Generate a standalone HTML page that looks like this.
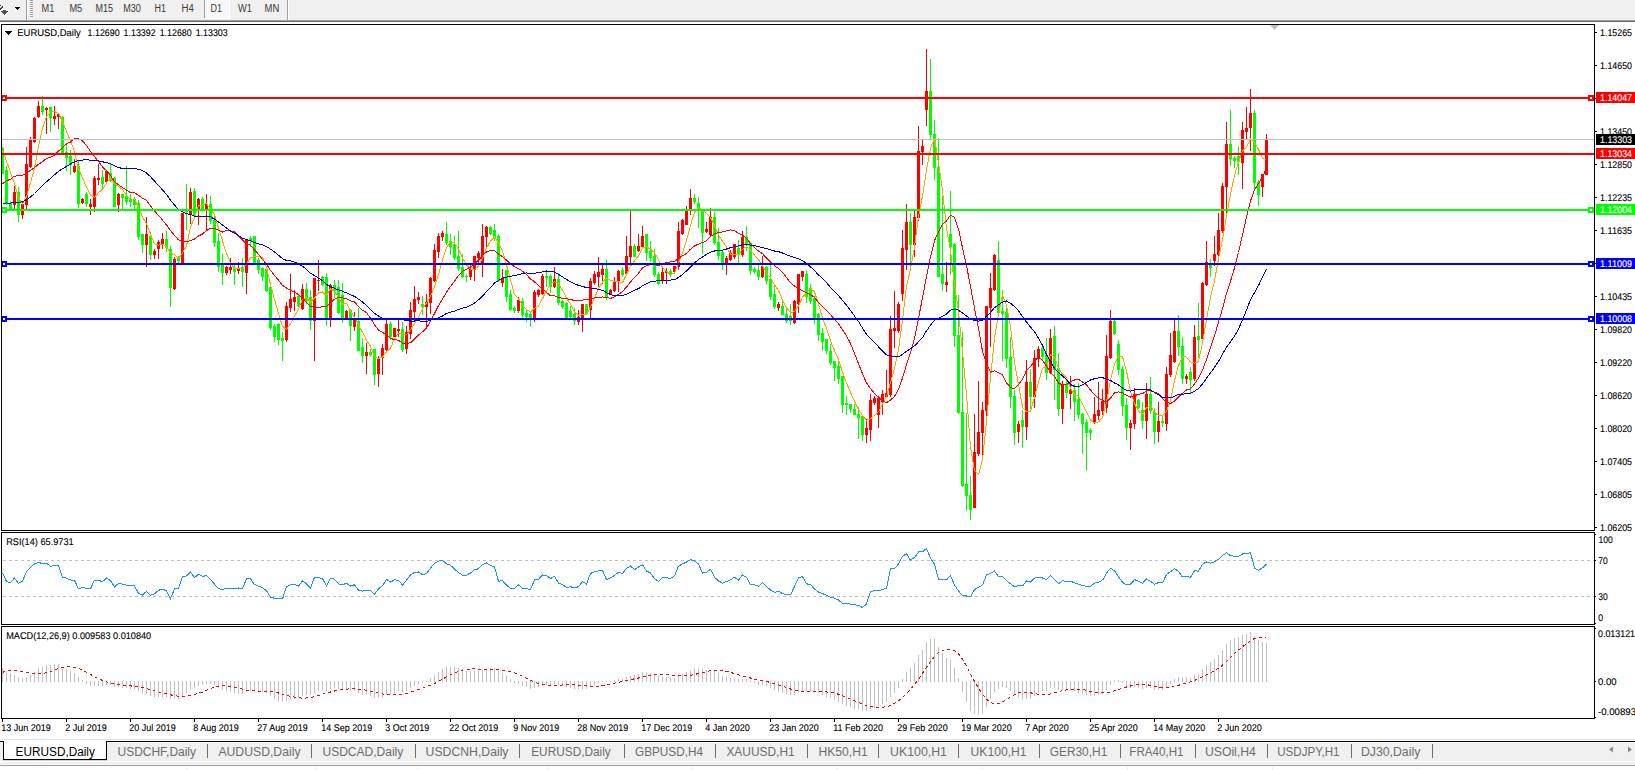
<!DOCTYPE html>
<html><head><meta charset="utf-8"><title>EURUSD,Daily</title><style>
html,body{margin:0;padding:0;}
body{width:1635px;height:770px;overflow:hidden;background:#fff;position:relative;font-family:"Liberation Sans", sans-serif;}
.a{position:absolute;}
</style></head><body>
<div class="a" style="left:0;top:0;width:1635px;height:20px;background:#f0f0f0"></div><div class="a" style="left:0;top:20px;width:1635px;height:1px;background:#a0a0a0"></div><div class="a" style="left:0;top:21px;width:1635px;height:1px;background:#696969"></div>
<svg class="a" style="left:0;top:0" width="300" height="20" shape-rendering="crispEdges" font-family='"Liberation Sans", sans-serif'><rect x="2" y="9" width="5" height="1" fill="#ffffff"/><rect x="0" y="10" width="9" height="1" fill="#ffffff"/><rect x="0" y="11" width="9" height="1" fill="#ffffff"/><rect x="1" y="12" width="7" height="1" fill="#ffffff"/><rect x="2" y="13" width="5" height="1" fill="#ffffff"/><rect x="3" y="14" width="3" height="1" fill="#ffffff"/><rect x="3" y="15" width="3" height="1" fill="#ffffff"/><rect x="0" y="4" width="2" height="1" fill="#ffffff"/><rect x="1" y="5" width="1" height="1" fill="#ffffff"/><rect x="0" y="6" width="1" height="1" fill="#ffffff"/><rect x="3" y="5" width="1" height="1" fill="#ffffff"/><rect x="3" y="6" width="1" height="1" fill="#ffffff"/><rect x="2" y="8" width="1" height="1" fill="#ffffff"/><rect x="1" y="9" width="1" height="1" fill="#ffffff"/><rect x="3" y="10" width="3" height="1" fill="#505050"/><rect x="1" y="11" width="7" height="1" fill="#505050"/><rect x="2" y="12" width="5" height="1" fill="#505050"/><rect x="3" y="13" width="3" height="1" fill="#505050"/><rect x="4" y="14" width="1" height="1" fill="#505050"/><rect x="0" y="5" width="1" height="1" fill="#404040"/><rect x="2" y="6" width="1" height="1" fill="#404040"/><rect x="1" y="7" width="2" height="1" fill="#404040"/><rect x="0" y="8" width="2" height="1" fill="#404040"/><rect x="0" y="9" width="1" height="1" fill="#404040"/><rect x="14" y="6" width="7" height="1" fill="#ffffff"/><rect x="15" y="10" width="3" height="1" fill="#ffffff"/><rect x="16" y="11" width="1" height="1" fill="#ffffff"/><rect x="15" y="7" width="5" height="1" fill="#000000"/><rect x="16" y="8" width="3" height="1" fill="#000000"/><rect x="17" y="9" width="1" height="1" fill="#000000"/><rect x="26" y="0" width="1" height="20" fill="#a0a0a0"/><rect x="27" y="0" width="1" height="20" fill="#fff"/><rect x="30" y="0" width="3" height="1" fill="#a0a0a0"/><rect x="30" y="2" width="3" height="1" fill="#a0a0a0"/><rect x="30" y="4" width="3" height="1" fill="#a0a0a0"/><rect x="30" y="6" width="3" height="1" fill="#a0a0a0"/><rect x="30" y="8" width="3" height="1" fill="#a0a0a0"/><rect x="30" y="10" width="3" height="1" fill="#a0a0a0"/><rect x="30" y="12" width="3" height="1" fill="#a0a0a0"/><rect x="30" y="14" width="3" height="1" fill="#a0a0a0"/><rect x="30" y="16" width="3" height="1" fill="#a0a0a0"/><rect x="204" y="0" width="1" height="18" fill="#a0a0a0"/><rect x="205" y="0" width="24" height="18" fill="#f7f7f7"/><rect x="204" y="18" width="26" height="1" fill="#fff"/><rect x="229" y="0" width="1" height="18" fill="#fff"/><rect x="287" y="0" width="1" height="20" fill="#a0a0a0"/><rect x="288" y="0" width="1" height="20" fill="#fff"/><text x="41.6" y="12" font-size="10" fill="#3a3a3a" textLength="12.8" lengthAdjust="spacingAndGlyphs" >M1</text><text x="69.4" y="12" font-size="10" fill="#3a3a3a" textLength="12.8" lengthAdjust="spacingAndGlyphs" >M5</text><text x="95.5" y="12" font-size="10" fill="#3a3a3a" textLength="17.5" lengthAdjust="spacingAndGlyphs" >M15</text><text x="123.3" y="12" font-size="10" fill="#3a3a3a" textLength="17.6" lengthAdjust="spacingAndGlyphs" >M30</text><text x="154.6" y="12" font-size="10" fill="#3a3a3a" textLength="11.5" lengthAdjust="spacingAndGlyphs" >H1</text><text x="181.5" y="12" font-size="10" fill="#3a3a3a" textLength="12.3" lengthAdjust="spacingAndGlyphs" >H4</text><text x="210.5" y="12" font-size="10" fill="#3a3a3a" textLength="11.5" lengthAdjust="spacingAndGlyphs" >D1</text><text x="238" y="12" font-size="10" fill="#3a3a3a" textLength="13.9" lengthAdjust="spacingAndGlyphs" >W1</text><text x="264.6" y="12" font-size="10" fill="#3a3a3a" textLength="14.7" lengthAdjust="spacingAndGlyphs" >MN</text></svg>
<div class="a" style="left:0;top:739px;width:1635px;height:1px;background:#e3e3e3"></div><div class="a" style="left:0;top:742px;width:1635px;height:22px;background:#f0f0f0"></div><div class="a" style="left:0;top:765px;width:1635px;height:1px;background:#a0a0a0"></div><div class="a" style="left:0;top:761px;width:1635px;height:1px;background:#fff"></div><div class="a" style="left:0;top:764px;width:1635px;height:1px;background:#f5f5f5"></div><div class="a" style="left:3px;top:760px;width:104px;height:1px;background:#d0d0d0"></div><div class="a" style="left:186px;top:767px;width:1px;height:3px;background:#ececec"></div><div class="a" style="left:316px;top:767px;width:1px;height:3px;background:#ececec"></div><div class="a" style="left:417px;top:767px;width:1px;height:3px;background:#ececec"></div><div class="a" style="left:547px;top:767px;width:1px;height:3px;background:#ececec"></div><div class="a" style="left:692px;top:767px;width:1px;height:3px;background:#ececec"></div><div class="a" style="left:837px;top:767px;width:1px;height:3px;background:#ececec"></div><div class="a" style="left:982px;top:767px;width:1px;height:3px;background:#ececec"></div><div class="a" style="left:1127px;top:767px;width:1px;height:3px;background:#ececec"></div><div class="a" style="left:1272px;top:767px;width:1px;height:3px;background:#ececec"></div><div class="a" style="left:1417px;top:767px;width:1px;height:3px;background:#ececec"></div><div class="a" style="left:0;top:741px;width:4px;height:1px;background:#000"></div><div class="a" style="left:106px;top:741px;width:1529px;height:1px;background:#000"></div><div class="a" style="left:107px;top:742px;width:1528px;height:1px;background:#fff"></div><div class="a" style="left:3px;top:741px;width:104px;height:19px;background:#fff;border-left:1px solid #000;border-right:1px solid #000;border-bottom:1px solid #000;box-sizing:border-box"></div>
<svg class="a" style="left:0;top:738px" width="1635" height="32" shape-rendering="crispEdges" font-family='"Liberation Sans", sans-serif'><text x="15.6" y="18" font-size="12" fill="#000" textLength="79.3" lengthAdjust="spacingAndGlyphs" >EURUSD,Daily</text><text x="117.5" y="18" font-size="12" fill="#6d6d6d" textLength="78.5" lengthAdjust="spacingAndGlyphs" >USDCHF,Daily</text><text x="218.4" y="18" font-size="12" fill="#6d6d6d" textLength="82.1" lengthAdjust="spacingAndGlyphs" >AUDUSD,Daily</text><text x="322.5" y="18" font-size="12" fill="#6d6d6d" textLength="80.8" lengthAdjust="spacingAndGlyphs" >USDCAD,Daily</text><text x="425.6" y="18" font-size="12" fill="#6d6d6d" textLength="82.9" lengthAdjust="spacingAndGlyphs" >USDCNH,Daily</text><text x="531.2" y="18" font-size="12" fill="#6d6d6d" textLength="79.6" lengthAdjust="spacingAndGlyphs" >EURUSD,Daily</text><text x="635" y="18" font-size="12" fill="#6d6d6d" textLength="68" lengthAdjust="spacingAndGlyphs" >GBPUSD,H4</text><text x="726.4" y="18" font-size="12" fill="#6d6d6d" textLength="68.3" lengthAdjust="spacingAndGlyphs" >XAUUSD,H1</text><text x="818.5" y="18" font-size="12" fill="#6d6d6d" textLength="49.2" lengthAdjust="spacingAndGlyphs" >HK50,H1</text><text x="890" y="18" font-size="12" fill="#6d6d6d" textLength="57" lengthAdjust="spacingAndGlyphs" >UK100,H1</text><text x="970.5" y="18" font-size="12" fill="#6d6d6d" textLength="56.1" lengthAdjust="spacingAndGlyphs" >UK100,H1</text><text x="1049.7" y="18" font-size="12" fill="#6d6d6d" textLength="57.6" lengthAdjust="spacingAndGlyphs" >GER30,H1</text><text x="1129.3" y="18" font-size="12" fill="#6d6d6d" textLength="54.3" lengthAdjust="spacingAndGlyphs" >FRA40,H1</text><text x="1204.9" y="18" font-size="12" fill="#6d6d6d" textLength="51" lengthAdjust="spacingAndGlyphs" >USOil,H4</text><text x="1277.2" y="18" font-size="12" fill="#6d6d6d" textLength="62.4" lengthAdjust="spacingAndGlyphs" >USDJPY,H1</text><text x="1360.9" y="18" font-size="12" fill="#6d6d6d" textLength="59.4" lengthAdjust="spacingAndGlyphs" >DJ30,Daily</text><rect x="207" y="6" width="1" height="14" fill="#6d6d6d"/><rect x="311" y="6" width="1" height="14" fill="#6d6d6d"/><rect x="415" y="6" width="1" height="14" fill="#6d6d6d"/><rect x="519" y="6" width="1" height="14" fill="#6d6d6d"/><rect x="624" y="6" width="1" height="14" fill="#6d6d6d"/><rect x="715" y="6" width="1" height="14" fill="#6d6d6d"/><rect x="807" y="6" width="1" height="14" fill="#6d6d6d"/><rect x="878" y="6" width="1" height="14" fill="#6d6d6d"/><rect x="958" y="6" width="1" height="14" fill="#6d6d6d"/><rect x="1039" y="6" width="1" height="14" fill="#6d6d6d"/><rect x="1120" y="6" width="1" height="14" fill="#6d6d6d"/><rect x="1195" y="6" width="1" height="14" fill="#6d6d6d"/><rect x="1267" y="6" width="1" height="14" fill="#6d6d6d"/><rect x="1351" y="6" width="1" height="14" fill="#6d6d6d"/><rect x="1432" y="6" width="1" height="14" fill="#6d6d6d"/><polygon points="1613,8.5 1609,11.5 1613,14.5" fill="#8a8a8a" shape-rendering="auto"/><polygon points="1628,8.5 1632,11.5 1628,14.5" fill="#8a8a8a" shape-rendering="auto"/></svg>
<svg class="a" style="left:0;top:0" width="1635" height="770" viewBox="0 0 1635 770" shape-rendering="crispEdges" text-rendering="geometricPrecision" font-family='"Liberation Sans", sans-serif'><defs><clipPath id="cm"><rect x="2" y="25" width="1592" height="505"/></clipPath><clipPath id="cr"><rect x="2" y="533" width="1592" height="91"/></clipPath><clipPath id="cd"><rect x="2" y="627" width="1592" height="91"/></clipPath></defs><g clip-path="url(#cm)"><rect x="2" y="147" width="1" height="27" fill="#00ff00"/><rect x="2" y="148" width="2" height="26" fill="#00ff00"/><rect x="6" y="166" width="1" height="39" fill="#00ff00"/><rect x="5" y="170" width="3" height="34" fill="#00ff00"/><rect x="10" y="201" width="1" height="9" fill="#00ff00"/><rect x="9" y="203" width="3" height="6" fill="#00ff00"/><rect x="14" y="186" width="1" height="23" fill="#ff0000"/><rect x="13" y="192" width="3" height="13" fill="#ff0000"/><rect x="18" y="187" width="1" height="35" fill="#00ff00"/><rect x="17" y="192" width="3" height="23" fill="#00ff00"/><rect x="22" y="201" width="1" height="18" fill="#ff0000"/><rect x="21" y="204" width="3" height="11" fill="#ff0000"/><rect x="26" y="147" width="1" height="63" fill="#ff0000"/><rect x="25" y="164" width="3" height="41" fill="#ff0000"/><rect x="30" y="137" width="1" height="31" fill="#ff0000"/><rect x="29" y="140" width="3" height="27" fill="#ff0000"/><rect x="34" y="117" width="1" height="26" fill="#ff0000"/><rect x="33" y="118" width="3" height="24" fill="#ff0000"/><rect x="38" y="101" width="1" height="17" fill="#ff0000"/><rect x="37" y="106" width="3" height="11" fill="#ff0000"/><rect x="42" y="96" width="1" height="19" fill="#00ff00"/><rect x="41" y="106" width="3" height="6" fill="#00ff00"/><rect x="46" y="107" width="1" height="27" fill="#ff0000"/><rect x="45" y="108" width="3" height="2" fill="#ff0000"/><rect x="50" y="107" width="1" height="25" fill="#00ff00"/><rect x="49" y="107" width="3" height="11" fill="#00ff00"/><rect x="54" y="106" width="1" height="19" fill="#ff0000"/><rect x="53" y="116" width="3" height="3" fill="#ff0000"/><rect x="58" y="114" width="1" height="15" fill="#ff0000"/><rect x="57" y="114" width="3" height="3" fill="#ff0000"/><rect x="62" y="116" width="1" height="38" fill="#00ff00"/><rect x="61" y="117" width="3" height="37" fill="#00ff00"/><rect x="66" y="144" width="1" height="27" fill="#00ff00"/><rect x="65" y="152" width="3" height="6" fill="#00ff00"/><rect x="70" y="150" width="1" height="25" fill="#00ff00"/><rect x="69" y="156" width="3" height="9" fill="#00ff00"/><rect x="74" y="159" width="1" height="14" fill="#ff0000"/><rect x="73" y="166" width="3" height="6" fill="#ff0000"/><rect x="78" y="161" width="1" height="47" fill="#00ff00"/><rect x="77" y="166" width="3" height="38" fill="#00ff00"/><rect x="82" y="198" width="1" height="6" fill="#ff0000"/><rect x="81" y="199" width="3" height="4" fill="#ff0000"/><rect x="86" y="192" width="1" height="15" fill="#00ff00"/><rect x="85" y="194" width="3" height="10" fill="#00ff00"/><rect x="90" y="199" width="1" height="16" fill="#ff0000"/><rect x="89" y="204" width="3" height="3" fill="#ff0000"/><rect x="94" y="176" width="1" height="36" fill="#ff0000"/><rect x="93" y="178" width="3" height="29" fill="#ff0000"/><rect x="98" y="164" width="1" height="21" fill="#ff0000"/><rect x="97" y="178" width="3" height="2" fill="#ff0000"/><rect x="102" y="170" width="1" height="19" fill="#00ff00"/><rect x="101" y="177" width="3" height="7" fill="#00ff00"/><rect x="106" y="170" width="1" height="13" fill="#ff0000"/><rect x="105" y="171" width="3" height="11" fill="#ff0000"/><rect x="110" y="164" width="1" height="18" fill="#00ff00"/><rect x="109" y="173" width="3" height="8" fill="#00ff00"/><rect x="114" y="177" width="1" height="30" fill="#00ff00"/><rect x="113" y="178" width="3" height="29" fill="#00ff00"/><rect x="118" y="193" width="1" height="19" fill="#ff0000"/><rect x="117" y="194" width="3" height="11" fill="#ff0000"/><rect x="122" y="194" width="1" height="15" fill="#00ff00"/><rect x="121" y="194" width="3" height="4" fill="#00ff00"/><rect x="126" y="166" width="1" height="39" fill="#00ff00"/><rect x="125" y="196" width="3" height="6" fill="#00ff00"/><rect x="130" y="194" width="1" height="13" fill="#00ff00"/><rect x="129" y="199" width="3" height="3" fill="#00ff00"/><rect x="134" y="197" width="1" height="12" fill="#00ff00"/><rect x="133" y="199" width="3" height="6" fill="#00ff00"/><rect x="138" y="200" width="1" height="40" fill="#00ff00"/><rect x="137" y="203" width="3" height="34" fill="#00ff00"/><rect x="142" y="234" width="1" height="19" fill="#00ff00"/><rect x="141" y="234" width="3" height="11" fill="#00ff00"/><rect x="146" y="217" width="1" height="50" fill="#ff0000"/><rect x="145" y="234" width="3" height="11" fill="#ff0000"/><rect x="150" y="232" width="1" height="28" fill="#00ff00"/><rect x="149" y="236" width="3" height="19" fill="#00ff00"/><rect x="154" y="249" width="1" height="10" fill="#ff0000"/><rect x="153" y="251" width="3" height="4" fill="#ff0000"/><rect x="158" y="240" width="1" height="19" fill="#ff0000"/><rect x="157" y="242" width="3" height="7" fill="#ff0000"/><rect x="162" y="233" width="1" height="16" fill="#ff0000"/><rect x="161" y="239" width="3" height="5" fill="#ff0000"/><rect x="166" y="231" width="1" height="21" fill="#00ff00"/><rect x="165" y="239" width="3" height="9" fill="#00ff00"/><rect x="170" y="246" width="1" height="61" fill="#00ff00"/><rect x="169" y="249" width="3" height="39" fill="#00ff00"/><rect x="174" y="257" width="1" height="33" fill="#ff0000"/><rect x="173" y="259" width="3" height="30" fill="#ff0000"/><rect x="178" y="256" width="1" height="8" fill="#00ff00"/><rect x="177" y="257" width="3" height="4" fill="#00ff00"/><rect x="182" y="213" width="1" height="51" fill="#ff0000"/><rect x="181" y="213" width="3" height="51" fill="#ff0000"/><rect x="186" y="184" width="1" height="46" fill="#00ff00"/><rect x="185" y="209" width="3" height="3" fill="#00ff00"/><rect x="190" y="188" width="1" height="36" fill="#ff0000"/><rect x="189" y="192" width="3" height="23" fill="#ff0000"/><rect x="194" y="188" width="1" height="29" fill="#00ff00"/><rect x="193" y="191" width="3" height="24" fill="#00ff00"/><rect x="198" y="198" width="1" height="27" fill="#ff0000"/><rect x="197" y="199" width="3" height="11" fill="#ff0000"/><rect x="202" y="197" width="1" height="13" fill="#00ff00"/><rect x="201" y="199" width="3" height="10" fill="#00ff00"/><rect x="206" y="194" width="1" height="37" fill="#ff0000"/><rect x="205" y="204" width="3" height="6" fill="#ff0000"/><rect x="210" y="196" width="1" height="28" fill="#00ff00"/><rect x="209" y="204" width="3" height="17" fill="#00ff00"/><rect x="214" y="214" width="1" height="33" fill="#00ff00"/><rect x="213" y="220" width="3" height="23" fill="#00ff00"/><rect x="218" y="233" width="1" height="39" fill="#00ff00"/><rect x="217" y="241" width="3" height="26" fill="#00ff00"/><rect x="222" y="254" width="1" height="31" fill="#00ff00"/><rect x="221" y="264" width="3" height="9" fill="#00ff00"/><rect x="226" y="266" width="1" height="9" fill="#ff0000"/><rect x="225" y="267" width="3" height="6" fill="#ff0000"/><rect x="230" y="258" width="1" height="16" fill="#ff0000"/><rect x="229" y="267" width="3" height="3" fill="#ff0000"/><rect x="234" y="264" width="1" height="21" fill="#00ff00"/><rect x="233" y="268" width="3" height="4" fill="#00ff00"/><rect x="238" y="262" width="1" height="12" fill="#ff0000"/><rect x="237" y="268" width="3" height="3" fill="#ff0000"/><rect x="242" y="258" width="1" height="29" fill="#00ff00"/><rect x="241" y="267" width="3" height="5" fill="#00ff00"/><rect x="246" y="240" width="1" height="54" fill="#ff0000"/><rect x="245" y="240" width="3" height="33" fill="#ff0000"/><rect x="250" y="236" width="1" height="11" fill="#00ff00"/><rect x="249" y="238" width="3" height="3" fill="#00ff00"/><rect x="254" y="236" width="1" height="28" fill="#00ff00"/><rect x="253" y="236" width="3" height="27" fill="#00ff00"/><rect x="258" y="258" width="1" height="16" fill="#00ff00"/><rect x="257" y="260" width="3" height="10" fill="#00ff00"/><rect x="262" y="267" width="1" height="14" fill="#00ff00"/><rect x="261" y="268" width="3" height="9" fill="#00ff00"/><rect x="266" y="266" width="1" height="26" fill="#00ff00"/><rect x="265" y="269" width="3" height="22" fill="#00ff00"/><rect x="270" y="286" width="1" height="44" fill="#00ff00"/><rect x="269" y="287" width="3" height="41" fill="#00ff00"/><rect x="274" y="324" width="1" height="18" fill="#00ff00"/><rect x="273" y="326" width="3" height="11" fill="#00ff00"/><rect x="278" y="323" width="1" height="22" fill="#00ff00"/><rect x="277" y="324" width="3" height="16" fill="#00ff00"/><rect x="282" y="332" width="1" height="29" fill="#00ff00"/><rect x="281" y="338" width="3" height="3" fill="#00ff00"/><rect x="286" y="302" width="1" height="40" fill="#ff0000"/><rect x="285" y="306" width="3" height="34" fill="#ff0000"/><rect x="290" y="274" width="1" height="38" fill="#ff0000"/><rect x="289" y="299" width="3" height="9" fill="#ff0000"/><rect x="294" y="290" width="1" height="21" fill="#ff0000"/><rect x="293" y="297" width="3" height="5" fill="#ff0000"/><rect x="298" y="295" width="1" height="12" fill="#00ff00"/><rect x="297" y="296" width="3" height="10" fill="#00ff00"/><rect x="302" y="284" width="1" height="26" fill="#ff0000"/><rect x="301" y="289" width="3" height="20" fill="#ff0000"/><rect x="306" y="283" width="1" height="21" fill="#00ff00"/><rect x="305" y="289" width="3" height="12" fill="#00ff00"/><rect x="310" y="290" width="1" height="40" fill="#00ff00"/><rect x="309" y="297" width="3" height="24" fill="#00ff00"/><rect x="314" y="278" width="1" height="83" fill="#ff0000"/><rect x="313" y="278" width="3" height="43" fill="#ff0000"/><rect x="318" y="260" width="1" height="31" fill="#ff0000"/><rect x="317" y="280" width="3" height="1" fill="#ff0000"/><rect x="322" y="276" width="1" height="10" fill="#00ff00"/><rect x="321" y="277" width="3" height="8" fill="#00ff00"/><rect x="326" y="273" width="1" height="53" fill="#00ff00"/><rect x="325" y="277" width="3" height="42" fill="#00ff00"/><rect x="330" y="284" width="1" height="43" fill="#ff0000"/><rect x="329" y="285" width="3" height="34" fill="#ff0000"/><rect x="334" y="280" width="1" height="18" fill="#00ff00"/><rect x="333" y="285" width="3" height="6" fill="#00ff00"/><rect x="338" y="280" width="1" height="34" fill="#00ff00"/><rect x="337" y="287" width="3" height="26" fill="#00ff00"/><rect x="342" y="283" width="1" height="40" fill="#00ff00"/><rect x="341" y="295" width="3" height="24" fill="#00ff00"/><rect x="346" y="310" width="1" height="10" fill="#ff0000"/><rect x="345" y="311" width="3" height="8" fill="#ff0000"/><rect x="350" y="309" width="1" height="32" fill="#00ff00"/><rect x="349" y="310" width="3" height="16" fill="#00ff00"/><rect x="354" y="312" width="1" height="19" fill="#ff0000"/><rect x="353" y="320" width="3" height="7" fill="#ff0000"/><rect x="358" y="308" width="1" height="43" fill="#00ff00"/><rect x="357" y="321" width="3" height="30" fill="#00ff00"/><rect x="362" y="338" width="1" height="25" fill="#00ff00"/><rect x="361" y="347" width="3" height="9" fill="#00ff00"/><rect x="366" y="343" width="1" height="31" fill="#ff0000"/><rect x="365" y="352" width="3" height="4" fill="#ff0000"/><rect x="370" y="349" width="1" height="8" fill="#00ff00"/><rect x="369" y="352" width="3" height="3" fill="#00ff00"/><rect x="374" y="349" width="1" height="36" fill="#00ff00"/><rect x="373" y="349" width="3" height="26" fill="#00ff00"/><rect x="378" y="356" width="1" height="31" fill="#ff0000"/><rect x="377" y="358" width="3" height="16" fill="#ff0000"/><rect x="382" y="344" width="1" height="31" fill="#ff0000"/><rect x="381" y="348" width="3" height="10" fill="#ff0000"/><rect x="386" y="320" width="1" height="32" fill="#ff0000"/><rect x="385" y="324" width="3" height="26" fill="#ff0000"/><rect x="390" y="321" width="1" height="19" fill="#00ff00"/><rect x="389" y="324" width="3" height="13" fill="#00ff00"/><rect x="394" y="328" width="1" height="9" fill="#ff0000"/><rect x="393" y="328" width="3" height="9" fill="#ff0000"/><rect x="398" y="320" width="1" height="17" fill="#ff0000"/><rect x="397" y="329" width="3" height="2" fill="#ff0000"/><rect x="402" y="322" width="1" height="30" fill="#00ff00"/><rect x="401" y="329" width="3" height="21" fill="#00ff00"/><rect x="406" y="326" width="1" height="28" fill="#ff0000"/><rect x="405" y="332" width="3" height="17" fill="#ff0000"/><rect x="410" y="302" width="1" height="37" fill="#ff0000"/><rect x="409" y="310" width="3" height="24" fill="#ff0000"/><rect x="414" y="286" width="1" height="33" fill="#ff0000"/><rect x="413" y="299" width="3" height="13" fill="#ff0000"/><rect x="418" y="292" width="1" height="12" fill="#ff0000"/><rect x="417" y="297" width="3" height="3" fill="#ff0000"/><rect x="422" y="296" width="1" height="19" fill="#00ff00"/><rect x="421" y="304" width="3" height="3" fill="#00ff00"/><rect x="426" y="294" width="1" height="33" fill="#ff0000"/><rect x="425" y="302" width="3" height="5" fill="#ff0000"/><rect x="430" y="277" width="1" height="37" fill="#ff0000"/><rect x="429" y="278" width="3" height="25" fill="#ff0000"/><rect x="434" y="244" width="1" height="38" fill="#ff0000"/><rect x="433" y="250" width="3" height="31" fill="#ff0000"/><rect x="438" y="233" width="1" height="25" fill="#ff0000"/><rect x="437" y="236" width="3" height="16" fill="#ff0000"/><rect x="442" y="231" width="1" height="10" fill="#ff0000"/><rect x="441" y="233" width="3" height="4" fill="#ff0000"/><rect x="446" y="222" width="1" height="23" fill="#00ff00"/><rect x="445" y="234" width="3" height="9" fill="#00ff00"/><rect x="450" y="234" width="1" height="21" fill="#00ff00"/><rect x="449" y="241" width="3" height="6" fill="#00ff00"/><rect x="454" y="236" width="1" height="24" fill="#00ff00"/><rect x="453" y="244" width="3" height="14" fill="#00ff00"/><rect x="458" y="231" width="1" height="40" fill="#00ff00"/><rect x="457" y="256" width="3" height="13" fill="#00ff00"/><rect x="462" y="254" width="1" height="24" fill="#00ff00"/><rect x="461" y="267" width="3" height="10" fill="#00ff00"/><rect x="466" y="274" width="1" height="8" fill="#00ff00"/><rect x="465" y="276" width="3" height="1" fill="#00ff00"/><rect x="470" y="264" width="1" height="16" fill="#ff0000"/><rect x="469" y="269" width="3" height="8" fill="#ff0000"/><rect x="474" y="256" width="1" height="25" fill="#ff0000"/><rect x="473" y="256" width="3" height="14" fill="#ff0000"/><rect x="478" y="251" width="1" height="14" fill="#ff0000"/><rect x="477" y="253" width="3" height="5" fill="#ff0000"/><rect x="482" y="224" width="1" height="53" fill="#ff0000"/><rect x="481" y="236" width="3" height="29" fill="#ff0000"/><rect x="486" y="226" width="1" height="21" fill="#ff0000"/><rect x="485" y="227" width="3" height="10" fill="#ff0000"/><rect x="490" y="226" width="1" height="9" fill="#00ff00"/><rect x="489" y="227" width="3" height="7" fill="#00ff00"/><rect x="494" y="224" width="1" height="17" fill="#00ff00"/><rect x="493" y="230" width="3" height="7" fill="#00ff00"/><rect x="498" y="234" width="1" height="48" fill="#00ff00"/><rect x="497" y="236" width="3" height="45" fill="#00ff00"/><rect x="502" y="269" width="1" height="18" fill="#ff0000"/><rect x="501" y="278" width="3" height="5" fill="#ff0000"/><rect x="506" y="270" width="1" height="32" fill="#00ff00"/><rect x="505" y="270" width="3" height="27" fill="#00ff00"/><rect x="510" y="290" width="1" height="21" fill="#00ff00"/><rect x="509" y="294" width="3" height="16" fill="#00ff00"/><rect x="514" y="306" width="1" height="7" fill="#00ff00"/><rect x="513" y="308" width="3" height="3" fill="#00ff00"/><rect x="518" y="297" width="1" height="16" fill="#ff0000"/><rect x="517" y="300" width="3" height="11" fill="#ff0000"/><rect x="522" y="298" width="1" height="20" fill="#00ff00"/><rect x="521" y="301" width="3" height="14" fill="#00ff00"/><rect x="526" y="310" width="1" height="12" fill="#00ff00"/><rect x="525" y="313" width="3" height="4" fill="#00ff00"/><rect x="530" y="312" width="1" height="15" fill="#00ff00"/><rect x="529" y="314" width="3" height="6" fill="#00ff00"/><rect x="534" y="290" width="1" height="32" fill="#ff0000"/><rect x="533" y="292" width="3" height="28" fill="#ff0000"/><rect x="538" y="289" width="1" height="8" fill="#ff0000"/><rect x="537" y="290" width="3" height="5" fill="#ff0000"/><rect x="542" y="274" width="1" height="21" fill="#ff0000"/><rect x="541" y="276" width="3" height="18" fill="#ff0000"/><rect x="546" y="272" width="1" height="15" fill="#00ff00"/><rect x="545" y="276" width="3" height="2" fill="#00ff00"/><rect x="550" y="274" width="1" height="19" fill="#00ff00"/><rect x="549" y="276" width="3" height="11" fill="#00ff00"/><rect x="554" y="267" width="1" height="21" fill="#ff0000"/><rect x="553" y="279" width="3" height="8" fill="#ff0000"/><rect x="558" y="273" width="1" height="32" fill="#00ff00"/><rect x="557" y="279" width="3" height="24" fill="#00ff00"/><rect x="562" y="300" width="1" height="9" fill="#00ff00"/><rect x="561" y="301" width="3" height="6" fill="#00ff00"/><rect x="566" y="302" width="1" height="17" fill="#00ff00"/><rect x="565" y="303" width="3" height="15" fill="#00ff00"/><rect x="570" y="306" width="1" height="13" fill="#00ff00"/><rect x="569" y="311" width="3" height="6" fill="#00ff00"/><rect x="574" y="308" width="1" height="17" fill="#00ff00"/><rect x="573" y="314" width="3" height="7" fill="#00ff00"/><rect x="578" y="310" width="1" height="15" fill="#ff0000"/><rect x="577" y="317" width="3" height="5" fill="#ff0000"/><rect x="582" y="304" width="1" height="28" fill="#ff0000"/><rect x="581" y="304" width="3" height="15" fill="#ff0000"/><rect x="586" y="304" width="1" height="11" fill="#00ff00"/><rect x="585" y="304" width="3" height="10" fill="#00ff00"/><rect x="590" y="278" width="1" height="41" fill="#ff0000"/><rect x="589" y="281" width="3" height="29" fill="#ff0000"/><rect x="594" y="271" width="1" height="14" fill="#ff0000"/><rect x="593" y="274" width="3" height="9" fill="#ff0000"/><rect x="598" y="257" width="1" height="30" fill="#ff0000"/><rect x="597" y="272" width="3" height="5" fill="#ff0000"/><rect x="602" y="264" width="1" height="20" fill="#ff0000"/><rect x="601" y="269" width="3" height="6" fill="#ff0000"/><rect x="606" y="260" width="1" height="40" fill="#00ff00"/><rect x="605" y="269" width="3" height="28" fill="#00ff00"/><rect x="610" y="289" width="1" height="6" fill="#ff0000"/><rect x="609" y="290" width="3" height="4" fill="#ff0000"/><rect x="614" y="277" width="1" height="15" fill="#ff0000"/><rect x="613" y="282" width="3" height="9" fill="#ff0000"/><rect x="618" y="270" width="1" height="22" fill="#ff0000"/><rect x="617" y="271" width="3" height="11" fill="#ff0000"/><rect x="622" y="267" width="1" height="10" fill="#00ff00"/><rect x="621" y="270" width="3" height="5" fill="#00ff00"/><rect x="626" y="236" width="1" height="39" fill="#ff0000"/><rect x="625" y="256" width="3" height="18" fill="#ff0000"/><rect x="630" y="211" width="1" height="53" fill="#ff0000"/><rect x="629" y="246" width="3" height="11" fill="#ff0000"/><rect x="634" y="244" width="1" height="13" fill="#00ff00"/><rect x="633" y="246" width="3" height="11" fill="#00ff00"/><rect x="638" y="234" width="1" height="18" fill="#ff0000"/><rect x="637" y="246" width="3" height="5" fill="#ff0000"/><rect x="642" y="226" width="1" height="21" fill="#ff0000"/><rect x="641" y="236" width="3" height="11" fill="#ff0000"/><rect x="646" y="234" width="1" height="27" fill="#00ff00"/><rect x="645" y="234" width="3" height="19" fill="#00ff00"/><rect x="650" y="241" width="1" height="21" fill="#00ff00"/><rect x="649" y="251" width="3" height="7" fill="#00ff00"/><rect x="654" y="249" width="1" height="28" fill="#00ff00"/><rect x="653" y="256" width="3" height="19" fill="#00ff00"/><rect x="658" y="272" width="1" height="13" fill="#00ff00"/><rect x="657" y="274" width="3" height="10" fill="#00ff00"/><rect x="662" y="268" width="1" height="16" fill="#ff0000"/><rect x="661" y="272" width="3" height="8" fill="#ff0000"/><rect x="666" y="268" width="1" height="16" fill="#ff0000"/><rect x="665" y="271" width="3" height="2" fill="#ff0000"/><rect x="670" y="269" width="1" height="8" fill="#00ff00"/><rect x="669" y="271" width="3" height="4" fill="#00ff00"/><rect x="674" y="266" width="1" height="7" fill="#ff0000"/><rect x="673" y="266" width="3" height="6" fill="#ff0000"/><rect x="678" y="222" width="1" height="48" fill="#ff0000"/><rect x="677" y="231" width="3" height="36" fill="#ff0000"/><rect x="682" y="219" width="1" height="16" fill="#ff0000"/><rect x="681" y="220" width="3" height="14" fill="#ff0000"/><rect x="686" y="206" width="1" height="19" fill="#ff0000"/><rect x="685" y="211" width="3" height="14" fill="#ff0000"/><rect x="690" y="189" width="1" height="26" fill="#ff0000"/><rect x="689" y="198" width="3" height="11" fill="#ff0000"/><rect x="694" y="194" width="1" height="10" fill="#00ff00"/><rect x="693" y="198" width="3" height="4" fill="#00ff00"/><rect x="698" y="197" width="1" height="31" fill="#00ff00"/><rect x="697" y="203" width="3" height="6" fill="#00ff00"/><rect x="702" y="210" width="1" height="44" fill="#00ff00"/><rect x="701" y="211" width="3" height="22" fill="#00ff00"/><rect x="706" y="222" width="1" height="11" fill="#ff0000"/><rect x="705" y="229" width="3" height="3" fill="#ff0000"/><rect x="710" y="208" width="1" height="29" fill="#ff0000"/><rect x="709" y="217" width="3" height="18" fill="#ff0000"/><rect x="714" y="212" width="1" height="33" fill="#00ff00"/><rect x="713" y="217" width="3" height="26" fill="#00ff00"/><rect x="718" y="228" width="1" height="32" fill="#00ff00"/><rect x="717" y="242" width="3" height="14" fill="#00ff00"/><rect x="722" y="250" width="1" height="20" fill="#00ff00"/><rect x="721" y="252" width="3" height="12" fill="#00ff00"/><rect x="726" y="256" width="1" height="19" fill="#ff0000"/><rect x="725" y="258" width="3" height="6" fill="#ff0000"/><rect x="730" y="250" width="1" height="11" fill="#ff0000"/><rect x="729" y="253" width="3" height="7" fill="#ff0000"/><rect x="734" y="244" width="1" height="15" fill="#ff0000"/><rect x="733" y="244" width="3" height="13" fill="#ff0000"/><rect x="738" y="240" width="1" height="24" fill="#00ff00"/><rect x="737" y="248" width="3" height="7" fill="#00ff00"/><rect x="742" y="231" width="1" height="26" fill="#ff0000"/><rect x="741" y="237" width="3" height="18" fill="#ff0000"/><rect x="746" y="226" width="1" height="25" fill="#00ff00"/><rect x="745" y="237" width="3" height="8" fill="#00ff00"/><rect x="750" y="242" width="1" height="33" fill="#00ff00"/><rect x="749" y="243" width="3" height="28" fill="#00ff00"/><rect x="754" y="267" width="1" height="7" fill="#00ff00"/><rect x="753" y="269" width="3" height="3" fill="#00ff00"/><rect x="758" y="264" width="1" height="16" fill="#00ff00"/><rect x="757" y="270" width="3" height="7" fill="#00ff00"/><rect x="762" y="256" width="1" height="22" fill="#ff0000"/><rect x="761" y="266" width="3" height="11" fill="#ff0000"/><rect x="766" y="266" width="1" height="18" fill="#00ff00"/><rect x="765" y="267" width="3" height="14" fill="#00ff00"/><rect x="770" y="262" width="1" height="38" fill="#00ff00"/><rect x="769" y="279" width="3" height="18" fill="#00ff00"/><rect x="774" y="286" width="1" height="23" fill="#00ff00"/><rect x="773" y="294" width="3" height="13" fill="#00ff00"/><rect x="778" y="302" width="1" height="9" fill="#ff0000"/><rect x="777" y="304" width="3" height="4" fill="#ff0000"/><rect x="782" y="301" width="1" height="14" fill="#00ff00"/><rect x="781" y="306" width="3" height="9" fill="#00ff00"/><rect x="786" y="309" width="1" height="14" fill="#00ff00"/><rect x="785" y="314" width="3" height="7" fill="#00ff00"/><rect x="790" y="304" width="1" height="21" fill="#00ff00"/><rect x="789" y="316" width="3" height="5" fill="#00ff00"/><rect x="794" y="300" width="1" height="24" fill="#ff0000"/><rect x="793" y="301" width="3" height="22" fill="#ff0000"/><rect x="798" y="274" width="1" height="39" fill="#ff0000"/><rect x="797" y="274" width="3" height="30" fill="#ff0000"/><rect x="802" y="271" width="1" height="10" fill="#ff0000"/><rect x="801" y="271" width="3" height="6" fill="#ff0000"/><rect x="806" y="270" width="1" height="33" fill="#00ff00"/><rect x="805" y="274" width="3" height="23" fill="#00ff00"/><rect x="810" y="284" width="1" height="20" fill="#00ff00"/><rect x="809" y="288" width="3" height="13" fill="#00ff00"/><rect x="814" y="296" width="1" height="28" fill="#00ff00"/><rect x="813" y="298" width="3" height="21" fill="#00ff00"/><rect x="818" y="313" width="1" height="28" fill="#00ff00"/><rect x="817" y="314" width="3" height="21" fill="#00ff00"/><rect x="822" y="328" width="1" height="23" fill="#00ff00"/><rect x="821" y="333" width="3" height="9" fill="#00ff00"/><rect x="826" y="339" width="1" height="15" fill="#00ff00"/><rect x="825" y="339" width="3" height="12" fill="#00ff00"/><rect x="830" y="344" width="1" height="21" fill="#00ff00"/><rect x="829" y="351" width="3" height="12" fill="#00ff00"/><rect x="834" y="361" width="1" height="20" fill="#00ff00"/><rect x="833" y="361" width="3" height="7" fill="#00ff00"/><rect x="838" y="361" width="1" height="23" fill="#00ff00"/><rect x="837" y="366" width="3" height="13" fill="#00ff00"/><rect x="842" y="376" width="1" height="37" fill="#00ff00"/><rect x="841" y="376" width="3" height="29" fill="#00ff00"/><rect x="846" y="396" width="1" height="19" fill="#00ff00"/><rect x="845" y="403" width="3" height="2" fill="#00ff00"/><rect x="850" y="404" width="1" height="9" fill="#00ff00"/><rect x="849" y="404" width="3" height="5" fill="#00ff00"/><rect x="854" y="404" width="1" height="11" fill="#00ff00"/><rect x="853" y="409" width="3" height="6" fill="#00ff00"/><rect x="858" y="407" width="1" height="32" fill="#00ff00"/><rect x="857" y="414" width="3" height="4" fill="#00ff00"/><rect x="862" y="416" width="1" height="25" fill="#00ff00"/><rect x="861" y="416" width="3" height="19" fill="#00ff00"/><rect x="866" y="419" width="1" height="24" fill="#ff0000"/><rect x="865" y="428" width="3" height="7" fill="#ff0000"/><rect x="870" y="394" width="1" height="47" fill="#ff0000"/><rect x="869" y="400" width="3" height="30" fill="#ff0000"/><rect x="874" y="396" width="1" height="9" fill="#ff0000"/><rect x="873" y="398" width="3" height="5" fill="#ff0000"/><rect x="878" y="396" width="1" height="32" fill="#ff0000"/><rect x="877" y="398" width="3" height="17" fill="#ff0000"/><rect x="882" y="390" width="1" height="25" fill="#ff0000"/><rect x="881" y="394" width="3" height="8" fill="#ff0000"/><rect x="886" y="370" width="1" height="27" fill="#ff0000"/><rect x="885" y="393" width="3" height="4" fill="#ff0000"/><rect x="890" y="316" width="1" height="81" fill="#ff0000"/><rect x="889" y="329" width="3" height="66" fill="#ff0000"/><rect x="894" y="291" width="1" height="57" fill="#ff0000"/><rect x="893" y="328" width="3" height="3" fill="#ff0000"/><rect x="898" y="302" width="1" height="31" fill="#ff0000"/><rect x="897" y="304" width="3" height="27" fill="#ff0000"/><rect x="902" y="230" width="1" height="71" fill="#ff0000"/><rect x="901" y="248" width="3" height="46" fill="#ff0000"/><rect x="906" y="204" width="1" height="66" fill="#ff0000"/><rect x="905" y="222" width="3" height="28" fill="#ff0000"/><rect x="910" y="213" width="1" height="54" fill="#00ff00"/><rect x="909" y="222" width="3" height="23" fill="#00ff00"/><rect x="914" y="211" width="1" height="46" fill="#ff0000"/><rect x="913" y="217" width="3" height="28" fill="#ff0000"/><rect x="918" y="126" width="1" height="95" fill="#ff0000"/><rect x="917" y="151" width="3" height="67" fill="#ff0000"/><rect x="922" y="140" width="1" height="25" fill="#ff0000"/><rect x="921" y="146" width="3" height="6" fill="#ff0000"/><rect x="926" y="49" width="1" height="77" fill="#ff0000"/><rect x="925" y="91" width="3" height="19" fill="#ff0000"/><rect x="930" y="59" width="1" height="80" fill="#00ff00"/><rect x="929" y="91" width="3" height="44" fill="#00ff00"/><rect x="934" y="120" width="1" height="60" fill="#00ff00"/><rect x="933" y="134" width="3" height="34" fill="#00ff00"/><rect x="938" y="138" width="1" height="139" fill="#00ff00"/><rect x="937" y="167" width="3" height="110" fill="#00ff00"/><rect x="942" y="196" width="1" height="95" fill="#00ff00"/><rect x="941" y="274" width="3" height="10" fill="#00ff00"/><rect x="946" y="262" width="1" height="30" fill="#ff0000"/><rect x="945" y="282" width="3" height="3" fill="#ff0000"/><rect x="950" y="191" width="1" height="84" fill="#00ff00"/><rect x="949" y="234" width="3" height="13" fill="#00ff00"/><rect x="954" y="243" width="1" height="104" fill="#00ff00"/><rect x="953" y="244" width="3" height="92" fill="#00ff00"/><rect x="958" y="295" width="1" height="119" fill="#00ff00"/><rect x="957" y="335" width="3" height="78" fill="#00ff00"/><rect x="962" y="332" width="1" height="155" fill="#00ff00"/><rect x="961" y="412" width="3" height="74" fill="#00ff00"/><rect x="966" y="413" width="1" height="98" fill="#00ff00"/><rect x="965" y="484" width="3" height="12" fill="#00ff00"/><rect x="970" y="476" width="1" height="44" fill="#00ff00"/><rect x="969" y="495" width="3" height="15" fill="#00ff00"/><rect x="974" y="414" width="1" height="94" fill="#ff0000"/><rect x="973" y="452" width="3" height="56" fill="#ff0000"/><rect x="978" y="381" width="1" height="75" fill="#ff0000"/><rect x="977" y="432" width="3" height="22" fill="#ff0000"/><rect x="982" y="402" width="1" height="54" fill="#ff0000"/><rect x="981" y="410" width="3" height="23" fill="#ff0000"/><rect x="986" y="306" width="1" height="111" fill="#ff0000"/><rect x="985" y="306" width="3" height="105" fill="#ff0000"/><rect x="990" y="273" width="1" height="74" fill="#ff0000"/><rect x="989" y="288" width="3" height="20" fill="#ff0000"/><rect x="994" y="254" width="1" height="37" fill="#ff0000"/><rect x="993" y="255" width="3" height="35" fill="#ff0000"/><rect x="998" y="241" width="1" height="73" fill="#00ff00"/><rect x="997" y="260" width="3" height="53" fill="#00ff00"/><rect x="1002" y="290" width="1" height="71" fill="#00ff00"/><rect x="1001" y="311" width="3" height="3" fill="#00ff00"/><rect x="1006" y="306" width="1" height="62" fill="#00ff00"/><rect x="1005" y="312" width="3" height="47" fill="#00ff00"/><rect x="1010" y="337" width="1" height="71" fill="#00ff00"/><rect x="1009" y="357" width="3" height="40" fill="#00ff00"/><rect x="1014" y="390" width="1" height="55" fill="#00ff00"/><rect x="1013" y="396" width="3" height="37" fill="#00ff00"/><rect x="1018" y="421" width="1" height="22" fill="#ff0000"/><rect x="1017" y="424" width="3" height="8" fill="#ff0000"/><rect x="1022" y="410" width="1" height="38" fill="#00ff00"/><rect x="1021" y="420" width="3" height="7" fill="#00ff00"/><rect x="1026" y="360" width="1" height="80" fill="#ff0000"/><rect x="1025" y="382" width="3" height="45" fill="#ff0000"/><rect x="1030" y="369" width="1" height="40" fill="#00ff00"/><rect x="1029" y="382" width="3" height="15" fill="#00ff00"/><rect x="1034" y="350" width="1" height="58" fill="#ff0000"/><rect x="1033" y="358" width="3" height="39" fill="#ff0000"/><rect x="1038" y="346" width="1" height="21" fill="#ff0000"/><rect x="1037" y="349" width="3" height="10" fill="#ff0000"/><rect x="1042" y="346" width="1" height="15" fill="#00ff00"/><rect x="1041" y="348" width="3" height="9" fill="#00ff00"/><rect x="1046" y="338" width="1" height="42" fill="#00ff00"/><rect x="1045" y="355" width="3" height="18" fill="#00ff00"/><rect x="1050" y="329" width="1" height="45" fill="#ff0000"/><rect x="1049" y="338" width="3" height="35" fill="#ff0000"/><rect x="1054" y="326" width="1" height="74" fill="#00ff00"/><rect x="1053" y="336" width="3" height="34" fill="#00ff00"/><rect x="1058" y="353" width="1" height="63" fill="#00ff00"/><rect x="1057" y="368" width="3" height="41" fill="#00ff00"/><rect x="1062" y="381" width="1" height="43" fill="#ff0000"/><rect x="1061" y="384" width="3" height="25" fill="#ff0000"/><rect x="1066" y="380" width="1" height="18" fill="#00ff00"/><rect x="1065" y="384" width="3" height="9" fill="#00ff00"/><rect x="1070" y="376" width="1" height="33" fill="#ff0000"/><rect x="1069" y="390" width="3" height="4" fill="#ff0000"/><rect x="1074" y="384" width="1" height="37" fill="#00ff00"/><rect x="1073" y="390" width="3" height="12" fill="#00ff00"/><rect x="1078" y="383" width="1" height="36" fill="#00ff00"/><rect x="1077" y="399" width="3" height="16" fill="#00ff00"/><rect x="1082" y="413" width="1" height="41" fill="#00ff00"/><rect x="1081" y="414" width="3" height="10" fill="#00ff00"/><rect x="1086" y="419" width="1" height="52" fill="#00ff00"/><rect x="1085" y="422" width="3" height="11" fill="#00ff00"/><rect x="1090" y="428" width="1" height="12" fill="#00ff00"/><rect x="1089" y="430" width="3" height="3" fill="#00ff00"/><rect x="1094" y="397" width="1" height="27" fill="#ff0000"/><rect x="1093" y="414" width="3" height="8" fill="#ff0000"/><rect x="1098" y="382" width="1" height="38" fill="#ff0000"/><rect x="1097" y="410" width="3" height="6" fill="#ff0000"/><rect x="1102" y="389" width="1" height="26" fill="#ff0000"/><rect x="1101" y="401" width="3" height="10" fill="#ff0000"/><rect x="1106" y="335" width="1" height="78" fill="#ff0000"/><rect x="1105" y="356" width="3" height="52" fill="#ff0000"/><rect x="1110" y="310" width="1" height="49" fill="#ff0000"/><rect x="1109" y="321" width="3" height="37" fill="#ff0000"/><rect x="1114" y="320" width="1" height="15" fill="#00ff00"/><rect x="1113" y="321" width="3" height="13" fill="#00ff00"/><rect x="1118" y="340" width="1" height="35" fill="#00ff00"/><rect x="1117" y="344" width="3" height="26" fill="#00ff00"/><rect x="1122" y="366" width="1" height="50" fill="#00ff00"/><rect x="1121" y="369" width="3" height="37" fill="#00ff00"/><rect x="1126" y="398" width="1" height="42" fill="#00ff00"/><rect x="1125" y="405" width="3" height="23" fill="#00ff00"/><rect x="1130" y="420" width="1" height="30" fill="#ff0000"/><rect x="1129" y="423" width="3" height="5" fill="#ff0000"/><rect x="1134" y="388" width="1" height="41" fill="#ff0000"/><rect x="1133" y="394" width="3" height="30" fill="#ff0000"/><rect x="1138" y="399" width="1" height="10" fill="#00ff00"/><rect x="1137" y="400" width="3" height="8" fill="#00ff00"/><rect x="1142" y="402" width="1" height="27" fill="#00ff00"/><rect x="1141" y="410" width="3" height="11" fill="#00ff00"/><rect x="1146" y="383" width="1" height="56" fill="#ff0000"/><rect x="1145" y="394" width="3" height="27" fill="#ff0000"/><rect x="1150" y="377" width="1" height="37" fill="#00ff00"/><rect x="1149" y="394" width="3" height="17" fill="#00ff00"/><rect x="1154" y="408" width="1" height="36" fill="#00ff00"/><rect x="1153" y="412" width="3" height="20" fill="#00ff00"/><rect x="1158" y="402" width="1" height="40" fill="#ff0000"/><rect x="1157" y="421" width="3" height="11" fill="#ff0000"/><rect x="1162" y="415" width="1" height="12" fill="#00ff00"/><rect x="1161" y="421" width="3" height="2" fill="#00ff00"/><rect x="1166" y="367" width="1" height="64" fill="#ff0000"/><rect x="1165" y="374" width="3" height="50" fill="#ff0000"/><rect x="1170" y="333" width="1" height="44" fill="#ff0000"/><rect x="1169" y="355" width="3" height="20" fill="#ff0000"/><rect x="1174" y="320" width="1" height="43" fill="#ff0000"/><rect x="1173" y="331" width="3" height="31" fill="#ff0000"/><rect x="1178" y="315" width="1" height="41" fill="#00ff00"/><rect x="1177" y="331" width="3" height="16" fill="#00ff00"/><rect x="1182" y="337" width="1" height="47" fill="#00ff00"/><rect x="1181" y="346" width="3" height="33" fill="#00ff00"/><rect x="1186" y="374" width="1" height="10" fill="#ff0000"/><rect x="1185" y="376" width="3" height="3" fill="#ff0000"/><rect x="1190" y="367" width="1" height="26" fill="#00ff00"/><rect x="1189" y="372" width="3" height="8" fill="#00ff00"/><rect x="1194" y="325" width="1" height="56" fill="#ff0000"/><rect x="1193" y="337" width="3" height="42" fill="#ff0000"/><rect x="1198" y="303" width="1" height="55" fill="#00ff00"/><rect x="1197" y="336" width="3" height="4" fill="#00ff00"/><rect x="1202" y="282" width="1" height="57" fill="#ff0000"/><rect x="1201" y="283" width="3" height="56" fill="#ff0000"/><rect x="1206" y="241" width="1" height="45" fill="#ff0000"/><rect x="1205" y="262" width="3" height="23" fill="#ff0000"/><rect x="1210" y="259" width="1" height="18" fill="#00ff00"/><rect x="1209" y="264" width="3" height="4" fill="#00ff00"/><rect x="1214" y="236" width="1" height="30" fill="#ff0000"/><rect x="1213" y="254" width="3" height="7" fill="#ff0000"/><rect x="1218" y="213" width="1" height="44" fill="#ff0000"/><rect x="1217" y="230" width="3" height="25" fill="#ff0000"/><rect x="1222" y="183" width="1" height="50" fill="#ff0000"/><rect x="1221" y="186" width="3" height="45" fill="#ff0000"/><rect x="1226" y="122" width="1" height="92" fill="#ff0000"/><rect x="1225" y="144" width="3" height="43" fill="#ff0000"/><rect x="1230" y="110" width="1" height="56" fill="#00ff00"/><rect x="1229" y="144" width="3" height="15" fill="#00ff00"/><rect x="1234" y="156" width="1" height="12" fill="#00ff00"/><rect x="1233" y="158" width="3" height="3" fill="#00ff00"/><rect x="1238" y="146" width="1" height="29" fill="#00ff00"/><rect x="1237" y="156" width="3" height="6" fill="#00ff00"/><rect x="1242" y="122" width="1" height="67" fill="#ff0000"/><rect x="1241" y="130" width="3" height="33" fill="#ff0000"/><rect x="1246" y="107" width="1" height="32" fill="#ff0000"/><rect x="1245" y="128" width="3" height="4" fill="#ff0000"/><rect x="1250" y="89" width="1" height="62" fill="#ff0000"/><rect x="1249" y="113" width="3" height="15" fill="#ff0000"/><rect x="1254" y="110" width="1" height="79" fill="#00ff00"/><rect x="1253" y="113" width="3" height="70" fill="#00ff00"/><rect x="1258" y="180" width="1" height="26" fill="#00ff00"/><rect x="1257" y="182" width="3" height="13" fill="#00ff00"/><rect x="1262" y="174" width="1" height="23" fill="#ff0000"/><rect x="1261" y="174" width="3" height="13" fill="#ff0000"/><rect x="1266" y="134" width="1" height="41" fill="#ff0000"/><rect x="1265" y="139" width="3" height="36" fill="#ff0000"/><polyline points="2.5,150.0 6.5,161.3 10.5,172.6 14.5,183.5 18.5,197.8 22.5,204.1 26.5,196.5 30.5,182.9 34.5,168.2 38.5,146.7 42.5,128.0 46.5,116.7 50.5,112.1 54.5,111.6 58.5,113.2 62.5,121.6 66.5,131.5 70.5,140.9 74.5,151.0 78.5,168.7 82.5,177.9 86.5,187.1 90.5,195.1 94.5,197.5 98.5,192.5 102.5,189.3 106.5,182.9 110.5,178.0 114.5,183.5 118.5,186.6 122.5,189.4 126.5,195.4 130.5,199.6 134.5,199.2 138.5,207.6 142.5,216.9 146.5,223.6 150.5,234.3 154.5,243.8 158.5,245.1 162.5,244.2 166.5,246.7 170.5,253.2 174.5,254.8 178.5,258.4 182.5,253.1 186.5,245.9 190.5,226.9 194.5,218.0 198.5,205.8 202.5,204.9 206.5,203.6 210.5,209.2 214.5,214.7 218.5,228.1 222.5,240.9 226.5,253.4 230.5,262.8 234.5,268.6 238.5,269.0 242.5,268.8 246.5,263.4 250.5,258.0 254.5,256.2 258.5,256.4 262.5,257.3 266.5,267.3 270.5,284.7 274.5,299.4 278.5,313.4 282.5,326.3 286.5,329.5 290.5,323.8 294.5,316.1 298.5,309.3 302.5,299.0 306.5,297.7 310.5,301.9 314.5,298.1 318.5,293.0 322.5,292.0 326.5,295.7 330.5,288.8 334.5,291.1 338.5,297.6 342.5,304.4 346.5,303.1 350.5,311.1 354.5,317.3 358.5,324.8 362.5,332.3 366.5,340.4 370.5,346.3 374.5,356.9 378.5,358.6 382.5,357.2 386.5,351.7 390.5,348.1 394.5,339.0 398.5,333.2 402.5,333.4 406.5,334.8 410.5,329.6 414.5,323.8 418.5,317.4 422.5,308.8 426.5,302.8 430.5,296.4 434.5,286.6 438.5,274.5 442.5,259.8 446.5,247.8 450.5,241.5 454.5,242.9 458.5,249.2 462.5,258.0 466.5,264.9 470.5,269.4 474.5,269.2 478.5,266.2 482.5,258.0 486.5,248.2 490.5,240.9 494.5,236.9 498.5,242.4 502.5,250.9 506.5,264.5 510.5,279.8 514.5,294.5 518.5,298.5 522.5,305.8 526.5,309.8 530.5,311.8 534.5,308.2 538.5,306.2 542.5,298.4 546.5,290.7 550.5,284.2 554.5,281.6 558.5,284.0 562.5,290.2 566.5,298.2 570.5,304.0 574.5,312.2 578.5,315.3 582.5,314.9 586.5,314.0 590.5,307.1 594.5,298.0 598.5,288.9 602.5,281.8 606.5,278.4 610.5,280.2 614.5,281.6 618.5,281.5 622.5,282.6 626.5,274.7 630.5,266.0 634.5,260.8 638.5,255.7 642.5,247.9 646.5,246.9 650.5,249.1 654.5,252.7 658.5,260.1 662.5,267.4 666.5,271.2 670.5,274.5 674.5,273.1 678.5,262.8 682.5,252.4 686.5,240.4 690.5,225.3 694.5,212.2 698.5,207.6 702.5,210.0 706.5,213.6 710.5,217.4 714.5,225.6 718.5,235.0 722.5,241.2 726.5,247.0 730.5,254.1 734.5,254.6 738.5,254.4 742.5,249.2 746.5,246.5 750.5,250.0 754.5,255.3 758.5,259.8 762.5,265.7 766.5,272.8 770.5,277.9 774.5,284.9 778.5,290.4 782.5,299.8 786.5,307.8 790.5,312.7 794.5,311.6 798.5,305.8 802.5,297.3 806.5,292.6 810.5,288.6 814.5,292.0 818.5,303.8 822.5,317.8 826.5,328.5 830.5,340.9 834.5,350.7 838.5,359.6 842.5,372.1 846.5,383.0 850.5,392.3 854.5,401.5 858.5,409.4 862.5,415.6 866.5,420.3 870.5,418.7 874.5,415.6 878.5,411.7 882.5,403.7 886.5,396.6 890.5,382.4 894.5,368.4 898.5,349.6 902.5,320.3 906.5,286.1 910.5,269.2 914.5,247.0 918.5,216.5 922.5,196.1 926.5,170.0 930.5,148.0 934.5,137.9 938.5,162.8 942.5,190.1 946.5,228.3 950.5,250.7 954.5,284.3 958.5,311.5 962.5,352.0 966.5,394.5 970.5,447.1 974.5,470.5 978.5,474.6 982.5,459.6 986.5,421.9 990.5,377.7 994.5,338.3 998.5,314.2 1002.5,294.6 1006.5,305.1 1010.5,326.8 1014.5,362.1 1018.5,384.5 1022.5,407.2 1026.5,412.0 1030.5,411.8 1034.5,397.1 1038.5,382.1 1042.5,368.1 1046.5,366.2 1050.5,354.6 1054.5,356.8 1058.5,368.6 1062.5,374.0 1066.5,378.0 1070.5,388.5 1074.5,395.0 1078.5,396.2 1082.5,404.1 1086.5,412.0 1090.5,420.4 1094.5,422.9 1098.5,422.0 1102.5,417.5 1106.5,402.4 1110.5,380.2 1114.5,364.1 1118.5,355.8 1122.5,356.7 1126.5,370.9 1130.5,391.2 1134.5,403.5 1138.5,411.2 1142.5,414.3 1146.5,407.8 1150.5,405.3 1154.5,412.6 1158.5,415.4 1162.5,415.7 1166.5,411.5 1170.5,400.5 1174.5,380.5 1178.5,365.6 1182.5,356.7 1186.5,357.1 1190.5,361.9 1194.5,363.1 1198.5,361.6 1202.5,342.6 1206.5,319.9 1210.5,297.5 1214.5,280.8 1218.5,258.9 1222.5,239.6 1226.5,216.1 1230.5,194.3 1234.5,175.6 1238.5,161.9 1242.5,150.7 1246.5,147.4 1250.5,138.4 1254.5,142.8 1258.5,149.4 1262.5,158.1 1266.5,160.4" fill="none" stroke="#ffa500" stroke-width="1" /><polyline points="2.5,183.6 6.5,180.9 10.5,179.2 14.5,176.1 18.5,175.8 22.5,175.1 26.5,173.3 30.5,170.3 34.5,167.7 38.5,164.3 42.5,161.7 46.5,158.6 50.5,157.2 54.5,155.3 58.5,151.1 62.5,147.6 66.5,143.9 70.5,142.0 74.5,138.6 78.5,138.5 82.5,140.9 86.5,145.4 90.5,151.6 94.5,156.7 98.5,161.5 102.5,166.9 106.5,170.7 110.5,175.3 114.5,181.8 118.5,184.7 122.5,187.6 126.5,190.2 130.5,192.7 134.5,192.7 138.5,195.3 142.5,198.2 146.5,200.4 150.5,205.8 154.5,211.1 158.5,215.3 162.5,220.1 166.5,224.9 170.5,230.7 174.5,235.4 178.5,239.9 182.5,240.7 186.5,241.5 190.5,240.6 194.5,239.1 198.5,235.9 202.5,234.1 206.5,230.5 210.5,228.3 214.5,228.3 218.5,230.2 222.5,232.0 226.5,230.5 230.5,231.1 234.5,231.9 238.5,235.9 242.5,240.1 246.5,243.6 250.5,245.4 254.5,249.9 258.5,254.3 262.5,259.3 266.5,264.3 270.5,270.4 274.5,275.4 278.5,280.1 282.5,285.4 286.5,288.1 290.5,290.1 294.5,292.2 298.5,294.6 302.5,298.1 306.5,302.3 310.5,306.4 314.5,307.1 318.5,307.3 322.5,306.9 326.5,306.3 330.5,302.7 334.5,299.1 338.5,297.1 342.5,297.9 346.5,298.9 350.5,300.9 354.5,302.0 358.5,306.3 362.5,310.3 366.5,312.6 370.5,318.1 374.5,324.8 378.5,330.1 382.5,332.3 386.5,335.1 390.5,338.4 394.5,339.6 398.5,340.4 402.5,343.1 406.5,343.5 410.5,342.8 414.5,339.2 418.5,335.0 422.5,331.8 426.5,328.0 430.5,321.2 434.5,313.5 438.5,305.5 442.5,299.0 446.5,292.2 450.5,286.4 454.5,281.3 458.5,275.5 462.5,271.5 466.5,269.1 470.5,267.0 474.5,264.1 478.5,260.2 482.5,255.5 486.5,251.9 490.5,250.6 494.5,250.6 498.5,254.0 502.5,256.6 506.5,260.1 510.5,263.8 514.5,266.8 518.5,268.5 522.5,271.2 526.5,274.5 530.5,279.0 534.5,281.8 538.5,285.7 542.5,289.1 546.5,292.3 550.5,295.9 554.5,295.8 558.5,297.5 562.5,298.3 566.5,298.9 570.5,299.3 574.5,300.7 578.5,300.9 582.5,300.1 586.5,299.7 590.5,298.9 594.5,297.8 598.5,297.5 602.5,296.9 606.5,297.6 610.5,298.4 614.5,296.9 618.5,294.4 622.5,291.4 626.5,287.1 630.5,281.9 634.5,277.5 638.5,273.3 642.5,267.7 646.5,265.7 650.5,264.4 654.5,264.5 658.5,265.5 662.5,263.8 666.5,262.5 670.5,261.9 674.5,261.6 678.5,258.4 682.5,255.8 686.5,253.3 690.5,249.2 694.5,246.0 698.5,244.1 702.5,242.6 706.5,240.6 710.5,236.6 714.5,233.7 718.5,232.5 722.5,231.9 726.5,230.8 730.5,229.8 734.5,230.8 738.5,233.2 742.5,235.1 746.5,238.4 750.5,243.3 754.5,247.8 758.5,251.0 762.5,253.7 766.5,258.2 770.5,262.0 774.5,265.7 778.5,268.6 782.5,272.5 786.5,277.3 790.5,282.7 794.5,286.1 798.5,288.8 802.5,290.7 806.5,292.6 810.5,294.6 814.5,297.6 818.5,302.4 822.5,306.8 826.5,310.6 830.5,314.6 834.5,319.2 838.5,323.8 842.5,329.7 846.5,335.8 850.5,343.4 854.5,353.3 858.5,363.8 862.5,373.7 866.5,382.8 870.5,388.7 874.5,393.3 878.5,397.3 882.5,400.5 886.5,402.7 890.5,400.0 894.5,396.4 898.5,389.3 902.5,378.1 906.5,364.8 910.5,352.7 914.5,338.4 918.5,318.2 922.5,298.0 926.5,276.0 930.5,257.1 934.5,240.6 938.5,232.1 942.5,224.3 946.5,220.9 950.5,215.1 954.5,217.3 958.5,229.0 962.5,247.8 966.5,265.7 970.5,286.5 974.5,308.0 978.5,328.4 982.5,351.3 986.5,363.5 990.5,372.2 994.5,370.7 998.5,372.8 1002.5,375.0 1006.5,382.9 1010.5,387.3 1014.5,388.8 1018.5,384.4 1022.5,379.5 1026.5,370.4 1030.5,366.4 1034.5,361.1 1038.5,356.7 1042.5,360.3 1046.5,366.3 1050.5,372.2 1054.5,376.3 1058.5,383.1 1062.5,384.9 1066.5,384.6 1070.5,381.6 1074.5,380.0 1078.5,379.2 1082.5,382.1 1086.5,384.7 1090.5,390.0 1094.5,394.6 1098.5,398.4 1102.5,400.4 1106.5,401.8 1110.5,398.3 1114.5,393.0 1118.5,391.9 1122.5,392.8 1126.5,395.5 1130.5,397.0 1134.5,395.6 1138.5,394.4 1142.5,393.6 1146.5,391.0 1150.5,390.7 1154.5,392.2 1158.5,393.7 1162.5,398.4 1166.5,402.2 1170.5,403.7 1174.5,401.0 1178.5,396.8 1182.5,393.3 1186.5,390.0 1190.5,388.9 1194.5,383.9 1198.5,378.0 1202.5,370.0 1206.5,359.5 1210.5,347.8 1214.5,335.8 1218.5,322.0 1222.5,308.6 1226.5,293.6 1230.5,281.3 1234.5,267.9 1238.5,252.5 1242.5,234.9 1246.5,217.0 1250.5,201.0 1254.5,189.8 1258.5,183.5 1262.5,177.2 1266.5,168.0" fill="none" stroke="#ff0000" stroke-width="1" /><polyline points="2.5,203.4 6.5,203.0 10.5,203.1 14.5,202.3 18.5,202.4 22.5,201.8 26.5,200.0 30.5,197.0 34.5,193.5 38.5,189.4 42.5,185.7 46.5,181.8 50.5,178.5 54.5,174.8 58.5,171.4 62.5,168.8 66.5,166.5 70.5,164.0 74.5,161.8 78.5,160.7 82.5,160.1 86.5,159.7 90.5,160.2 94.5,160.1 98.5,160.9 102.5,161.8 106.5,162.6 110.5,163.6 114.5,165.9 118.5,167.6 122.5,168.4 126.5,168.3 130.5,168.1 134.5,168.5 138.5,169.2 142.5,170.5 146.5,172.9 150.5,176.7 154.5,181.1 158.5,185.6 162.5,189.9 166.5,194.5 170.5,200.2 174.5,205.0 178.5,209.8 182.5,211.8 186.5,213.6 190.5,214.5 194.5,216.2 198.5,216.0 202.5,216.3 206.5,216.4 210.5,216.9 214.5,219.0 218.5,222.0 222.5,224.9 226.5,228.1 230.5,231.0 234.5,233.2 238.5,235.7 242.5,238.1 246.5,239.4 250.5,240.7 254.5,242.7 258.5,243.8 262.5,244.9 266.5,246.7 270.5,249.1 274.5,252.0 278.5,255.2 282.5,258.6 286.5,260.5 290.5,260.9 294.5,262.2 298.5,263.7 302.5,266.2 306.5,269.2 310.5,273.4 314.5,275.5 318.5,278.2 322.5,280.7 326.5,284.5 330.5,286.7 334.5,288.3 338.5,289.8 342.5,291.3 346.5,292.8 350.5,294.7 354.5,296.4 358.5,299.1 362.5,301.9 366.5,305.6 370.5,309.4 374.5,313.2 378.5,316.1 382.5,318.5 386.5,319.7 390.5,320.0 394.5,319.8 398.5,319.4 402.5,319.7 406.5,320.6 410.5,321.0 414.5,321.0 418.5,320.8 422.5,321.3 426.5,321.4 430.5,320.0 434.5,319.1 438.5,317.7 442.5,316.0 446.5,313.4 450.5,312.2 454.5,311.1 458.5,309.6 462.5,308.2 466.5,307.1 470.5,305.2 474.5,303.1 478.5,299.8 482.5,295.9 486.5,291.7 490.5,287.6 494.5,283.1 498.5,280.5 502.5,278.1 506.5,277.2 510.5,276.3 514.5,275.7 518.5,274.7 522.5,273.5 526.5,273.0 530.5,273.3 534.5,273.1 538.5,272.8 542.5,271.8 546.5,271.0 550.5,271.3 554.5,272.2 558.5,274.4 562.5,276.9 566.5,279.4 570.5,281.7 574.5,283.8 578.5,285.4 582.5,286.4 586.5,287.6 590.5,288.0 594.5,288.6 598.5,289.2 602.5,290.3 606.5,292.6 610.5,294.5 614.5,296.0 618.5,295.7 622.5,295.6 626.5,294.3 630.5,292.2 634.5,290.4 638.5,288.6 642.5,285.9 646.5,283.8 650.5,281.8 654.5,281.1 658.5,280.9 662.5,280.8 666.5,280.6 670.5,280.1 674.5,279.7 678.5,277.4 682.5,274.5 686.5,270.9 690.5,267.0 694.5,263.1 698.5,259.4 702.5,257.0 706.5,254.2 710.5,252.1 714.5,251.0 718.5,250.4 722.5,250.2 726.5,249.0 730.5,247.7 734.5,246.5 738.5,245.9 742.5,244.7 746.5,244.3 750.5,245.1 754.5,245.6 758.5,246.6 762.5,247.6 766.5,248.6 770.5,249.9 774.5,251.0 778.5,251.7 782.5,253.0 786.5,254.7 790.5,256.2 794.5,257.4 798.5,258.8 802.5,260.5 806.5,263.4 810.5,266.8 814.5,270.7 818.5,274.9 822.5,278.5 826.5,282.5 830.5,287.4 834.5,291.5 838.5,295.6 842.5,300.3 846.5,305.2 850.5,310.4 854.5,316.0 858.5,321.5 862.5,328.1 866.5,334.2 870.5,338.5 874.5,342.7 878.5,346.8 882.5,351.1 886.5,354.8 890.5,355.9 894.5,356.6 898.5,356.6 902.5,354.5 906.5,351.2 910.5,348.7 914.5,345.9 918.5,341.8 922.5,337.6 926.5,330.8 930.5,325.2 934.5,320.2 938.5,318.3 942.5,316.3 946.5,314.1 950.5,310.2 954.5,309.1 958.5,310.2 962.5,313.0 966.5,316.0 970.5,319.3 974.5,320.6 978.5,321.1 982.5,320.3 986.5,316.2 990.5,312.5 994.5,307.7 998.5,304.9 1002.5,302.1 1006.5,301.0 1010.5,303.2 1014.5,306.7 1018.5,310.7 1022.5,316.6 1026.5,322.0 1030.5,327.0 1034.5,331.7 1038.5,338.3 1042.5,345.3 1046.5,354.7 1050.5,361.4 1054.5,368.2 1058.5,372.6 1062.5,375.9 1066.5,379.6 1070.5,384.4 1074.5,386.6 1078.5,386.7 1082.5,384.6 1086.5,382.5 1090.5,380.0 1094.5,378.7 1098.5,377.9 1102.5,377.6 1106.5,379.3 1110.5,380.4 1114.5,383.0 1118.5,384.9 1122.5,388.0 1126.5,390.3 1130.5,391.1 1134.5,389.9 1138.5,389.3 1142.5,389.1 1146.5,389.6 1150.5,390.0 1154.5,392.5 1158.5,394.9 1162.5,397.1 1166.5,397.1 1170.5,397.7 1174.5,396.4 1178.5,394.4 1182.5,394.2 1186.5,393.6 1190.5,393.3 1194.5,391.1 1198.5,388.6 1202.5,383.9 1206.5,378.3 1210.5,372.8 1214.5,367.4 1218.5,361.4 1222.5,354.3 1226.5,347.2 1230.5,341.8 1234.5,336.0 1238.5,329.1 1242.5,319.9 1246.5,310.0 1250.5,299.7 1254.5,292.6 1258.5,285.5 1262.5,277.2 1266.5,268.7" fill="none" stroke="#0000cd" stroke-width="1" /><rect x="2" y="139" width="1592" height="1" fill="#c0c0c0"/><rect x="2" y="97" width="1592" height="2" fill="#ff0000"/><rect x="1" y="95" width="6" height="6" fill="#ff0000"/><rect x="3" y="97" width="2" height="2" fill="#fff"/><rect x="1588" y="95" width="6" height="6" fill="#ff0000"/><rect x="1590" y="97" width="2" height="2" fill="#fff"/><rect x="2" y="153" width="1592" height="2" fill="#ff0000"/><rect x="2" y="209" width="1592" height="2" fill="#00ff00"/><rect x="1" y="207" width="6" height="6" fill="#00ff00"/><rect x="3" y="209" width="2" height="2" fill="#fff"/><rect x="1588" y="207" width="6" height="6" fill="#00ff00"/><rect x="1590" y="209" width="2" height="2" fill="#fff"/><rect x="2" y="263" width="1592" height="2" fill="#0000ff"/><rect x="1" y="261" width="6" height="6" fill="#0000ff"/><rect x="3" y="263" width="2" height="2" fill="#fff"/><rect x="1588" y="261" width="6" height="6" fill="#0000ff"/><rect x="1590" y="263" width="2" height="2" fill="#fff"/><rect x="2" y="318" width="1592" height="2" fill="#0000ff"/><rect x="1" y="316" width="6" height="6" fill="#0000ff"/><rect x="3" y="318" width="2" height="2" fill="#fff"/><rect x="1588" y="316" width="6" height="6" fill="#0000ff"/><rect x="1590" y="318" width="2" height="2" fill="#fff"/><polygon points="1270,25 1279,25 1274.5,30" fill="#c0c0c0" shape-rendering="auto"/></g><rect x="1" y="24" width="1594" height="1" fill="#000"/><rect x="1" y="530" width="1594" height="1" fill="#000"/><rect x="1" y="24" width="1" height="507" fill="#000"/><rect x="1594" y="24" width="1" height="507" fill="#000"/><rect x="1" y="532" width="1594" height="1" fill="#000"/><rect x="1" y="624" width="1594" height="1" fill="#000"/><rect x="1" y="532" width="1" height="93" fill="#000"/><rect x="1594" y="532" width="1" height="93" fill="#000"/><rect x="1" y="626" width="1594" height="1" fill="#000"/><rect x="1" y="718" width="1594" height="1" fill="#000"/><rect x="1" y="626" width="1" height="93" fill="#000"/><rect x="1594" y="626" width="1" height="93" fill="#000"/><rect x="1595" y="32" width="2" height="1" fill="#000"/><rect x="1595" y="65" width="2" height="1" fill="#000"/><rect x="1595" y="98" width="2" height="1" fill="#000"/><rect x="1595" y="131" width="2" height="1" fill="#000"/><rect x="1595" y="164" width="2" height="1" fill="#000"/><rect x="1595" y="197" width="2" height="1" fill="#000"/><rect x="1595" y="230" width="2" height="1" fill="#000"/><rect x="1595" y="263" width="2" height="1" fill="#000"/><rect x="1595" y="296" width="2" height="1" fill="#000"/><rect x="1595" y="329" width="2" height="1" fill="#000"/><rect x="1595" y="362" width="2" height="1" fill="#000"/><rect x="1595" y="395" width="2" height="1" fill="#000"/><rect x="1595" y="428" width="2" height="1" fill="#000"/><rect x="1595" y="461" width="2" height="1" fill="#000"/><rect x="1595" y="494" width="2" height="1" fill="#000"/><rect x="1595" y="527" width="2" height="1" fill="#000"/><text x="1600" y="36" font-size="9.75" fill="#000" textLength="32" lengthAdjust="spacingAndGlyphs"  stroke="#000" stroke-width="0.12">1.15265</text><text x="1600" y="69" font-size="9.75" fill="#000" textLength="32" lengthAdjust="spacingAndGlyphs"  stroke="#000" stroke-width="0.12">1.14650</text><text x="1600" y="102" font-size="9.75" fill="#000" textLength="32" lengthAdjust="spacingAndGlyphs"  stroke="#000" stroke-width="0.12">1.14047</text><text x="1600" y="135" font-size="9.75" fill="#000" textLength="32" lengthAdjust="spacingAndGlyphs"  stroke="#000" stroke-width="0.12">1.13450</text><text x="1600" y="168" font-size="9.75" fill="#000" textLength="32" lengthAdjust="spacingAndGlyphs"  stroke="#000" stroke-width="0.12">1.12850</text><text x="1600" y="201" font-size="9.75" fill="#000" textLength="32" lengthAdjust="spacingAndGlyphs"  stroke="#000" stroke-width="0.12">1.12235</text><text x="1600" y="234" font-size="9.75" fill="#000" textLength="32" lengthAdjust="spacingAndGlyphs"  stroke="#000" stroke-width="0.12">1.11635</text><text x="1600" y="267" font-size="9.75" fill="#000" textLength="32" lengthAdjust="spacingAndGlyphs"  stroke="#000" stroke-width="0.12">1.11035</text><text x="1600" y="300" font-size="9.75" fill="#000" textLength="32" lengthAdjust="spacingAndGlyphs"  stroke="#000" stroke-width="0.12">1.10435</text><text x="1600" y="333" font-size="9.75" fill="#000" textLength="32" lengthAdjust="spacingAndGlyphs"  stroke="#000" stroke-width="0.12">1.09820</text><text x="1600" y="366" font-size="9.75" fill="#000" textLength="32" lengthAdjust="spacingAndGlyphs"  stroke="#000" stroke-width="0.12">1.09220</text><text x="1600" y="399" font-size="9.75" fill="#000" textLength="32" lengthAdjust="spacingAndGlyphs"  stroke="#000" stroke-width="0.12">1.08620</text><text x="1600" y="432" font-size="9.75" fill="#000" textLength="32" lengthAdjust="spacingAndGlyphs"  stroke="#000" stroke-width="0.12">1.08020</text><text x="1600" y="465" font-size="9.75" fill="#000" textLength="32" lengthAdjust="spacingAndGlyphs"  stroke="#000" stroke-width="0.12">1.07405</text><text x="1600" y="498" font-size="9.75" fill="#000" textLength="32" lengthAdjust="spacingAndGlyphs"  stroke="#000" stroke-width="0.12">1.06805</text><text x="1600" y="531" font-size="9.75" fill="#000" textLength="32" lengthAdjust="spacingAndGlyphs"  stroke="#000" stroke-width="0.12">1.06205</text><rect x="1596" y="92" width="39" height="11" fill="#ff0000"/><text x="1600" y="101" font-size="9.75" fill="#fff" textLength="32" lengthAdjust="spacingAndGlyphs"  stroke="#fff" stroke-width="0.12">1.14047</text><rect x="1596" y="134" width="39" height="11" fill="#000000"/><text x="1600" y="143" font-size="9.75" fill="#fff" textLength="32" lengthAdjust="spacingAndGlyphs"  stroke="#fff" stroke-width="0.12">1.13303</text><rect x="1596" y="148" width="39" height="11" fill="#ff0000"/><text x="1600" y="157" font-size="9.75" fill="#fff" textLength="32" lengthAdjust="spacingAndGlyphs"  stroke="#fff" stroke-width="0.12">1.13034</text><rect x="1596" y="204" width="39" height="11" fill="#00ff00"/><text x="1600" y="213" font-size="9.75" fill="#fff" textLength="32" lengthAdjust="spacingAndGlyphs"  stroke="#fff" stroke-width="0.12">1.12004</text><rect x="1596" y="258" width="39" height="11" fill="#0000ff"/><text x="1600" y="267" font-size="9.75" fill="#fff" textLength="32" lengthAdjust="spacingAndGlyphs"  stroke="#fff" stroke-width="0.12">1.11009</text><rect x="1596" y="313" width="39" height="11" fill="#0000ff"/><text x="1600" y="322" font-size="9.75" fill="#fff" textLength="32" lengthAdjust="spacingAndGlyphs"  stroke="#fff" stroke-width="0.12">1.10008</text><rect x="5" y="31" width="7" height="1" fill="#000"/><rect x="6" y="32" width="5" height="1" fill="#000"/><rect x="7" y="33" width="3" height="1" fill="#000"/><rect x="8" y="34" width="1" height="1" fill="#000"/><text x="17.3" y="36" font-size="9.75" fill="#000" textLength="63.4" lengthAdjust="spacingAndGlyphs"  stroke="#000" stroke-width="0.12">EURUSD,Daily</text><text x="87.6" y="36" font-size="9.75" fill="#000" textLength="32" lengthAdjust="spacingAndGlyphs"  stroke="#000" stroke-width="0.12">1.12690</text><text x="123.6" y="36" font-size="9.75" fill="#000" textLength="32" lengthAdjust="spacingAndGlyphs"  stroke="#000" stroke-width="0.12">1.13392</text><text x="159.7" y="36" font-size="9.75" fill="#000" textLength="32" lengthAdjust="spacingAndGlyphs"  stroke="#000" stroke-width="0.12">1.12680</text><text x="195.7" y="36" font-size="9.75" fill="#000" textLength="32" lengthAdjust="spacingAndGlyphs"  stroke="#000" stroke-width="0.12">1.13303</text><g clip-path="url(#cr)"><line x1="3" y1="560.5" x2="1594" y2="560.5" stroke="#c0c0c0" stroke-width="1" stroke-dasharray="3,3"/><line x1="3" y1="596.5" x2="1594" y2="596.5" stroke="#c0c0c0" stroke-width="1" stroke-dasharray="3,3"/><polyline points="2.5,572.8 6.5,581.5 10.5,582.8 14.5,578.1 18.5,583.5 22.5,581.0 26.5,571.7 30.5,567.3 34.5,564.0 38.5,562.3 42.5,563.7 46.5,563.2 50.5,566.2 54.5,565.8 58.5,565.6 62.5,577.1 66.5,578.1 70.5,580.0 74.5,580.4 78.5,588.7 82.5,587.5 86.5,588.3 90.5,588.6 94.5,580.3 98.5,580.3 102.5,581.7 106.5,578.0 110.5,580.6 114.5,587.0 118.5,583.3 122.5,584.1 126.5,585.1 130.5,585.1 134.5,585.9 138.5,593.4 142.5,595.0 146.5,591.3 150.5,595.3 154.5,593.9 158.5,590.3 162.5,589.1 166.5,591.0 170.5,598.6 174.5,588.8 178.5,589.0 182.5,576.4 186.5,576.0 190.5,572.0 194.5,577.5 198.5,574.3 202.5,576.4 206.5,575.6 210.5,579.4 214.5,584.2 218.5,588.6 222.5,589.6 226.5,588.2 230.5,588.2 234.5,589.0 238.5,588.0 242.5,588.7 246.5,578.8 250.5,578.8 254.5,584.5 258.5,586.1 262.5,587.6 266.5,590.8 270.5,597.1 274.5,598.3 278.5,598.8 282.5,599.0 286.5,586.9 290.5,584.7 294.5,584.2 298.5,586.1 302.5,581.0 306.5,583.8 310.5,588.3 314.5,577.1 318.5,577.5 322.5,578.6 326.5,586.0 330.5,578.2 334.5,579.2 338.5,583.8 342.5,584.8 346.5,583.2 350.5,586.0 354.5,584.7 358.5,590.2 362.5,591.1 366.5,590.1 370.5,590.6 374.5,594.1 378.5,588.9 382.5,585.8 386.5,579.4 390.5,582.1 394.5,579.9 398.5,580.2 402.5,585.0 406.5,580.1 410.5,574.8 414.5,572.4 418.5,572.0 422.5,574.7 426.5,573.6 430.5,568.2 434.5,563.2 438.5,561.1 442.5,560.5 446.5,563.7 450.5,565.3 454.5,569.0 458.5,572.5 462.5,575.1 466.5,575.1 470.5,573.0 474.5,569.7 478.5,568.8 482.5,564.7 486.5,563.0 490.5,565.3 494.5,566.8 498.5,581.3 502.5,580.7 506.5,585.1 510.5,588.2 514.5,588.4 518.5,584.9 522.5,588.4 526.5,588.6 530.5,589.5 534.5,579.9 538.5,579.3 542.5,574.9 546.5,575.5 550.5,578.6 554.5,576.2 558.5,583.2 562.5,584.5 566.5,587.4 570.5,586.7 574.5,587.9 578.5,586.7 582.5,581.5 586.5,584.1 590.5,573.5 594.5,571.7 598.5,571.0 602.5,570.2 606.5,579.6 610.5,577.8 614.5,575.3 618.5,572.1 622.5,573.4 626.5,568.4 630.5,565.9 634.5,569.6 638.5,567.0 642.5,564.7 646.5,571.1 650.5,573.0 654.5,578.6 658.5,581.3 662.5,577.8 666.5,577.6 670.5,578.5 674.5,575.9 678.5,566.2 682.5,563.9 686.5,562.1 690.5,559.7 694.5,561.0 698.5,564.0 702.5,573.0 706.5,572.2 710.5,569.2 714.5,577.3 718.5,581.0 722.5,583.1 726.5,581.5 730.5,579.8 734.5,577.2 738.5,580.1 742.5,575.0 746.5,577.4 750.5,584.6 754.5,584.8 758.5,586.2 762.5,582.6 766.5,586.3 770.5,590.1 774.5,592.4 778.5,591.3 782.5,593.5 786.5,594.8 790.5,594.8 794.5,586.5 798.5,577.6 802.5,576.5 806.5,583.8 810.5,584.7 814.5,588.9 818.5,592.1 822.5,593.6 826.5,595.2 830.5,597.3 834.5,598.2 838.5,600.0 842.5,603.5 846.5,603.6 850.5,604.1 854.5,604.8 858.5,605.3 862.5,607.5 866.5,604.0 870.5,591.6 874.5,590.8 878.5,590.8 882.5,589.3 886.5,588.5 890.5,569.0 894.5,568.7 898.5,564.0 902.5,556.3 906.5,553.7 910.5,560.3 914.5,557.4 918.5,552.0 922.5,551.7 926.5,548.5 930.5,558.1 934.5,564.2 938.5,579.2 942.5,580.0 946.5,579.9 950.5,575.6 954.5,585.0 958.5,591.0 962.5,595.5 966.5,596.0 970.5,596.8 974.5,589.6 978.5,587.3 982.5,584.9 986.5,574.9 990.5,573.5 994.5,571.0 998.5,576.5 1002.5,576.6 1006.5,580.7 1010.5,583.9 1014.5,586.6 1018.5,585.7 1022.5,586.0 1026.5,580.9 1030.5,582.2 1034.5,578.1 1038.5,577.2 1042.5,578.0 1046.5,579.8 1050.5,575.8 1054.5,579.6 1058.5,583.7 1062.5,580.7 1066.5,581.6 1070.5,581.3 1074.5,582.7 1078.5,584.3 1082.5,585.4 1086.5,586.4 1090.5,586.4 1094.5,583.1 1098.5,582.3 1102.5,580.5 1106.5,573.0 1110.5,568.3 1114.5,570.7 1118.5,576.8 1122.5,582.2 1126.5,585.0 1130.5,584.3 1134.5,579.6 1138.5,581.4 1142.5,583.4 1146.5,578.9 1150.5,581.3 1154.5,584.4 1158.5,582.6 1162.5,582.8 1166.5,574.4 1170.5,571.7 1174.5,568.6 1178.5,571.6 1182.5,577.0 1186.5,576.7 1190.5,577.2 1194.5,570.8 1198.5,571.2 1202.5,564.1 1206.5,562.0 1210.5,563.1 1214.5,561.7 1218.5,559.3 1222.5,555.6 1226.5,552.7 1230.5,555.8 1234.5,556.2 1238.5,556.5 1242.5,554.0 1246.5,553.8 1250.5,552.7 1254.5,568.1 1258.5,570.4 1262.5,567.8 1266.5,564.1" fill="none" stroke="#1e90ff" stroke-width="1" /></g><text x="6.2" y="545" font-size="9.75" fill="#000" textLength="67.5" lengthAdjust="spacingAndGlyphs"  stroke="#000" stroke-width="0.12">RSI(14) 65.9731</text><rect x="1595" y="534" width="1" height="1" fill="#000"/><text x="1598.4" y="543" font-size="9.75" fill="#000" textLength="14.3" lengthAdjust="spacingAndGlyphs"  stroke="#000" stroke-width="0.12">100</text><rect x="1595" y="560" width="1" height="1" fill="#000"/><text x="1598.2" y="564" font-size="9.75" fill="#000" textLength="9.5" lengthAdjust="spacingAndGlyphs"  stroke="#000" stroke-width="0.12">70</text><rect x="1595" y="596" width="1" height="1" fill="#000"/><text x="1598.2" y="600" font-size="9.75" fill="#000" textLength="9.5" lengthAdjust="spacingAndGlyphs"  stroke="#000" stroke-width="0.12">30</text><rect x="1595" y="623" width="1" height="1" fill="#000"/><text x="1598.2" y="621" font-size="9.75" fill="#000" textLength="4.8" lengthAdjust="spacingAndGlyphs"  stroke="#000" stroke-width="0.12">0</text><g clip-path="url(#cd)"><rect x="2" y="668" width="1" height="14" fill="#c0c0c0"/><rect x="6" y="671" width="1" height="11" fill="#c0c0c0"/><rect x="10" y="673" width="1" height="9" fill="#c0c0c0"/><rect x="14" y="675" width="1" height="7" fill="#c0c0c0"/><rect x="18" y="677" width="1" height="5" fill="#c0c0c0"/><rect x="22" y="678" width="1" height="4" fill="#c0c0c0"/><rect x="26" y="677" width="1" height="5" fill="#c0c0c0"/><rect x="30" y="675" width="1" height="7" fill="#c0c0c0"/><rect x="34" y="672" width="1" height="10" fill="#c0c0c0"/><rect x="38" y="668" width="1" height="14" fill="#c0c0c0"/><rect x="42" y="667" width="1" height="15" fill="#c0c0c0"/><rect x="46" y="665" width="1" height="17" fill="#c0c0c0"/><rect x="50" y="665" width="1" height="17" fill="#c0c0c0"/><rect x="54" y="664" width="1" height="18" fill="#c0c0c0"/><rect x="58" y="664" width="1" height="18" fill="#c0c0c0"/><rect x="62" y="667" width="1" height="15" fill="#c0c0c0"/><rect x="66" y="669" width="1" height="13" fill="#c0c0c0"/><rect x="70" y="671" width="1" height="11" fill="#c0c0c0"/><rect x="74" y="673" width="1" height="9" fill="#c0c0c0"/><rect x="78" y="677" width="1" height="5" fill="#c0c0c0"/><rect x="82" y="680" width="1" height="2" fill="#c0c0c0"/><rect x="86" y="681" width="1" height="3" fill="#c0c0c0"/><rect x="90" y="681" width="1" height="5" fill="#c0c0c0"/><rect x="94" y="681" width="1" height="5" fill="#c0c0c0"/><rect x="98" y="681" width="1" height="5" fill="#c0c0c0"/><rect x="102" y="681" width="1" height="5" fill="#c0c0c0"/><rect x="106" y="681" width="1" height="4" fill="#c0c0c0"/><rect x="110" y="681" width="1" height="4" fill="#c0c0c0"/><rect x="114" y="681" width="1" height="6" fill="#c0c0c0"/><rect x="118" y="681" width="1" height="6" fill="#c0c0c0"/><rect x="122" y="681" width="1" height="7" fill="#c0c0c0"/><rect x="126" y="681" width="1" height="7" fill="#c0c0c0"/><rect x="130" y="681" width="1" height="8" fill="#c0c0c0"/><rect x="134" y="681" width="1" height="8" fill="#c0c0c0"/><rect x="138" y="681" width="1" height="10" fill="#c0c0c0"/><rect x="142" y="681" width="1" height="12" fill="#c0c0c0"/><rect x="146" y="681" width="1" height="13" fill="#c0c0c0"/><rect x="150" y="681" width="1" height="15" fill="#c0c0c0"/><rect x="154" y="681" width="1" height="16" fill="#c0c0c0"/><rect x="158" y="681" width="1" height="16" fill="#c0c0c0"/><rect x="162" y="681" width="1" height="16" fill="#c0c0c0"/><rect x="166" y="681" width="1" height="16" fill="#c0c0c0"/><rect x="170" y="681" width="1" height="18" fill="#c0c0c0"/><rect x="174" y="681" width="1" height="18" fill="#c0c0c0"/><rect x="178" y="681" width="1" height="18" fill="#c0c0c0"/><rect x="182" y="681" width="1" height="15" fill="#c0c0c0"/><rect x="186" y="681" width="1" height="12" fill="#c0c0c0"/><rect x="190" y="681" width="1" height="9" fill="#c0c0c0"/><rect x="194" y="681" width="1" height="7" fill="#c0c0c0"/><rect x="198" y="681" width="1" height="5" fill="#c0c0c0"/><rect x="202" y="681" width="1" height="4" fill="#c0c0c0"/><rect x="206" y="681" width="1" height="3" fill="#c0c0c0"/><rect x="210" y="681" width="1" height="3" fill="#c0c0c0"/><rect x="214" y="681" width="1" height="4" fill="#c0c0c0"/><rect x="218" y="681" width="1" height="7" fill="#c0c0c0"/><rect x="222" y="681" width="1" height="9" fill="#c0c0c0"/><rect x="226" y="681" width="1" height="10" fill="#c0c0c0"/><rect x="230" y="681" width="1" height="11" fill="#c0c0c0"/><rect x="234" y="681" width="1" height="12" fill="#c0c0c0"/><rect x="238" y="681" width="1" height="13" fill="#c0c0c0"/><rect x="242" y="681" width="1" height="13" fill="#c0c0c0"/><rect x="246" y="681" width="1" height="11" fill="#c0c0c0"/><rect x="250" y="681" width="1" height="10" fill="#c0c0c0"/><rect x="254" y="681" width="1" height="10" fill="#c0c0c0"/><rect x="258" y="681" width="1" height="10" fill="#c0c0c0"/><rect x="262" y="681" width="1" height="11" fill="#c0c0c0"/><rect x="266" y="681" width="1" height="12" fill="#c0c0c0"/><rect x="270" y="681" width="1" height="15" fill="#c0c0c0"/><rect x="274" y="681" width="1" height="18" fill="#c0c0c0"/><rect x="278" y="681" width="1" height="20" fill="#c0c0c0"/><rect x="282" y="681" width="1" height="21" fill="#c0c0c0"/><rect x="286" y="681" width="1" height="20" fill="#c0c0c0"/><rect x="290" y="681" width="1" height="19" fill="#c0c0c0"/><rect x="294" y="681" width="1" height="18" fill="#c0c0c0"/><rect x="298" y="681" width="1" height="17" fill="#c0c0c0"/><rect x="302" y="681" width="1" height="15" fill="#c0c0c0"/><rect x="306" y="681" width="1" height="14" fill="#c0c0c0"/><rect x="310" y="681" width="1" height="14" fill="#c0c0c0"/><rect x="314" y="681" width="1" height="12" fill="#c0c0c0"/><rect x="318" y="681" width="1" height="10" fill="#c0c0c0"/><rect x="322" y="681" width="1" height="9" fill="#c0c0c0"/><rect x="326" y="681" width="1" height="10" fill="#c0c0c0"/><rect x="330" y="681" width="1" height="8" fill="#c0c0c0"/><rect x="334" y="681" width="1" height="7" fill="#c0c0c0"/><rect x="338" y="681" width="1" height="8" fill="#c0c0c0"/><rect x="342" y="681" width="1" height="9" fill="#c0c0c0"/><rect x="346" y="681" width="1" height="9" fill="#c0c0c0"/><rect x="350" y="681" width="1" height="10" fill="#c0c0c0"/><rect x="354" y="681" width="1" height="10" fill="#c0c0c0"/><rect x="358" y="681" width="1" height="12" fill="#c0c0c0"/><rect x="362" y="681" width="1" height="14" fill="#c0c0c0"/><rect x="366" y="681" width="1" height="14" fill="#c0c0c0"/><rect x="370" y="681" width="1" height="15" fill="#c0c0c0"/><rect x="374" y="681" width="1" height="17" fill="#c0c0c0"/><rect x="378" y="681" width="1" height="17" fill="#c0c0c0"/><rect x="382" y="681" width="1" height="16" fill="#c0c0c0"/><rect x="386" y="681" width="1" height="14" fill="#c0c0c0"/><rect x="390" y="681" width="1" height="13" fill="#c0c0c0"/><rect x="394" y="681" width="1" height="12" fill="#c0c0c0"/><rect x="398" y="681" width="1" height="10" fill="#c0c0c0"/><rect x="402" y="681" width="1" height="11" fill="#c0c0c0"/><rect x="406" y="681" width="1" height="10" fill="#c0c0c0"/><rect x="410" y="681" width="1" height="7" fill="#c0c0c0"/><rect x="414" y="681" width="1" height="5" fill="#c0c0c0"/><rect x="418" y="681" width="1" height="3" fill="#c0c0c0"/><rect x="422" y="681" width="1" height="2" fill="#c0c0c0"/><rect x="426" y="681" width="1" height="1" fill="#c0c0c0"/><rect x="430" y="678" width="1" height="4" fill="#c0c0c0"/><rect x="434" y="675" width="1" height="7" fill="#c0c0c0"/><rect x="438" y="672" width="1" height="10" fill="#c0c0c0"/><rect x="442" y="669" width="1" height="13" fill="#c0c0c0"/><rect x="446" y="667" width="1" height="15" fill="#c0c0c0"/><rect x="450" y="667" width="1" height="15" fill="#c0c0c0"/><rect x="454" y="667" width="1" height="15" fill="#c0c0c0"/><rect x="458" y="668" width="1" height="14" fill="#c0c0c0"/><rect x="462" y="669" width="1" height="13" fill="#c0c0c0"/><rect x="466" y="671" width="1" height="11" fill="#c0c0c0"/><rect x="470" y="671" width="1" height="11" fill="#c0c0c0"/><rect x="474" y="671" width="1" height="11" fill="#c0c0c0"/><rect x="478" y="671" width="1" height="11" fill="#c0c0c0"/><rect x="482" y="670" width="1" height="12" fill="#c0c0c0"/><rect x="486" y="669" width="1" height="13" fill="#c0c0c0"/><rect x="490" y="668" width="1" height="14" fill="#c0c0c0"/><rect x="494" y="668" width="1" height="14" fill="#c0c0c0"/><rect x="498" y="671" width="1" height="11" fill="#c0c0c0"/><rect x="502" y="673" width="1" height="9" fill="#c0c0c0"/><rect x="506" y="676" width="1" height="6" fill="#c0c0c0"/><rect x="510" y="679" width="1" height="3" fill="#c0c0c0"/><rect x="514" y="681" width="1" height="2" fill="#c0c0c0"/><rect x="518" y="681" width="1" height="3" fill="#c0c0c0"/><rect x="522" y="681" width="1" height="5" fill="#c0c0c0"/><rect x="526" y="681" width="1" height="6" fill="#c0c0c0"/><rect x="530" y="681" width="1" height="8" fill="#c0c0c0"/><rect x="534" y="681" width="1" height="7" fill="#c0c0c0"/><rect x="538" y="681" width="1" height="6" fill="#c0c0c0"/><rect x="542" y="681" width="1" height="5" fill="#c0c0c0"/><rect x="546" y="681" width="1" height="4" fill="#c0c0c0"/><rect x="550" y="681" width="1" height="4" fill="#c0c0c0"/><rect x="554" y="681" width="1" height="3" fill="#c0c0c0"/><rect x="558" y="681" width="1" height="4" fill="#c0c0c0"/><rect x="562" y="681" width="1" height="5" fill="#c0c0c0"/><rect x="566" y="681" width="1" height="6" fill="#c0c0c0"/><rect x="570" y="681" width="1" height="7" fill="#c0c0c0"/><rect x="574" y="681" width="1" height="8" fill="#c0c0c0"/><rect x="578" y="681" width="1" height="8" fill="#c0c0c0"/><rect x="582" y="681" width="1" height="8" fill="#c0c0c0"/><rect x="586" y="681" width="1" height="8" fill="#c0c0c0"/><rect x="590" y="681" width="1" height="6" fill="#c0c0c0"/><rect x="594" y="681" width="1" height="4" fill="#c0c0c0"/><rect x="598" y="681" width="1" height="2" fill="#c0c0c0"/><rect x="602" y="681" width="1" height="1" fill="#c0c0c0"/><rect x="606" y="681" width="1" height="1" fill="#c0c0c0"/><rect x="610" y="681" width="1" height="1" fill="#c0c0c0"/><rect x="614" y="680" width="1" height="2" fill="#c0c0c0"/><rect x="618" y="679" width="1" height="3" fill="#c0c0c0"/><rect x="622" y="679" width="1" height="3" fill="#c0c0c0"/><rect x="626" y="677" width="1" height="5" fill="#c0c0c0"/><rect x="630" y="676" width="1" height="6" fill="#c0c0c0"/><rect x="634" y="675" width="1" height="7" fill="#c0c0c0"/><rect x="638" y="674" width="1" height="8" fill="#c0c0c0"/><rect x="642" y="672" width="1" height="10" fill="#c0c0c0"/><rect x="646" y="672" width="1" height="10" fill="#c0c0c0"/><rect x="650" y="673" width="1" height="9" fill="#c0c0c0"/><rect x="654" y="674" width="1" height="8" fill="#c0c0c0"/><rect x="658" y="676" width="1" height="6" fill="#c0c0c0"/><rect x="662" y="677" width="1" height="5" fill="#c0c0c0"/><rect x="666" y="677" width="1" height="5" fill="#c0c0c0"/><rect x="670" y="678" width="1" height="4" fill="#c0c0c0"/><rect x="674" y="678" width="1" height="4" fill="#c0c0c0"/><rect x="678" y="676" width="1" height="6" fill="#c0c0c0"/><rect x="682" y="674" width="1" height="8" fill="#c0c0c0"/><rect x="686" y="672" width="1" height="10" fill="#c0c0c0"/><rect x="690" y="670" width="1" height="12" fill="#c0c0c0"/><rect x="694" y="668" width="1" height="14" fill="#c0c0c0"/><rect x="698" y="668" width="1" height="14" fill="#c0c0c0"/><rect x="702" y="669" width="1" height="13" fill="#c0c0c0"/><rect x="706" y="670" width="1" height="12" fill="#c0c0c0"/><rect x="710" y="670" width="1" height="12" fill="#c0c0c0"/><rect x="714" y="671" width="1" height="11" fill="#c0c0c0"/><rect x="718" y="673" width="1" height="9" fill="#c0c0c0"/><rect x="722" y="676" width="1" height="6" fill="#c0c0c0"/><rect x="726" y="677" width="1" height="5" fill="#c0c0c0"/><rect x="730" y="678" width="1" height="4" fill="#c0c0c0"/><rect x="734" y="679" width="1" height="3" fill="#c0c0c0"/><rect x="738" y="679" width="1" height="3" fill="#c0c0c0"/><rect x="742" y="679" width="1" height="3" fill="#c0c0c0"/><rect x="746" y="679" width="1" height="3" fill="#c0c0c0"/><rect x="750" y="681" width="1" height="1" fill="#c0c0c0"/><rect x="754" y="681" width="1" height="2" fill="#c0c0c0"/><rect x="758" y="681" width="1" height="4" fill="#c0c0c0"/><rect x="762" y="681" width="1" height="4" fill="#c0c0c0"/><rect x="766" y="681" width="1" height="5" fill="#c0c0c0"/><rect x="770" y="681" width="1" height="7" fill="#c0c0c0"/><rect x="774" y="681" width="1" height="9" fill="#c0c0c0"/><rect x="778" y="681" width="1" height="11" fill="#c0c0c0"/><rect x="782" y="681" width="1" height="12" fill="#c0c0c0"/><rect x="786" y="681" width="1" height="13" fill="#c0c0c0"/><rect x="790" y="681" width="1" height="14" fill="#c0c0c0"/><rect x="794" y="681" width="1" height="14" fill="#c0c0c0"/><rect x="798" y="681" width="1" height="12" fill="#c0c0c0"/><rect x="802" y="681" width="1" height="10" fill="#c0c0c0"/><rect x="806" y="681" width="1" height="10" fill="#c0c0c0"/><rect x="810" y="681" width="1" height="10" fill="#c0c0c0"/><rect x="814" y="681" width="1" height="11" fill="#c0c0c0"/><rect x="818" y="681" width="1" height="12" fill="#c0c0c0"/><rect x="822" y="681" width="1" height="14" fill="#c0c0c0"/><rect x="826" y="681" width="1" height="16" fill="#c0c0c0"/><rect x="830" y="681" width="1" height="17" fill="#c0c0c0"/><rect x="834" y="681" width="1" height="19" fill="#c0c0c0"/><rect x="838" y="681" width="1" height="21" fill="#c0c0c0"/><rect x="842" y="681" width="1" height="23" fill="#c0c0c0"/><rect x="846" y="681" width="1" height="25" fill="#c0c0c0"/><rect x="850" y="681" width="1" height="26" fill="#c0c0c0"/><rect x="854" y="681" width="1" height="28" fill="#c0c0c0"/><rect x="858" y="681" width="1" height="28" fill="#c0c0c0"/><rect x="862" y="681" width="1" height="30" fill="#c0c0c0"/><rect x="866" y="681" width="1" height="30" fill="#c0c0c0"/><rect x="870" y="681" width="1" height="28" fill="#c0c0c0"/><rect x="874" y="681" width="1" height="27" fill="#c0c0c0"/><rect x="878" y="681" width="1" height="25" fill="#c0c0c0"/><rect x="882" y="681" width="1" height="23" fill="#c0c0c0"/><rect x="886" y="681" width="1" height="21" fill="#c0c0c0"/><rect x="890" y="681" width="1" height="16" fill="#c0c0c0"/><rect x="894" y="681" width="1" height="12" fill="#c0c0c0"/><rect x="898" y="681" width="1" height="7" fill="#c0c0c0"/><rect x="902" y="679" width="1" height="3" fill="#c0c0c0"/><rect x="906" y="672" width="1" height="10" fill="#c0c0c0"/><rect x="910" y="668" width="1" height="14" fill="#c0c0c0"/><rect x="914" y="663" width="1" height="19" fill="#c0c0c0"/><rect x="918" y="655" width="1" height="27" fill="#c0c0c0"/><rect x="922" y="650" width="1" height="32" fill="#c0c0c0"/><rect x="926" y="642" width="1" height="40" fill="#c0c0c0"/><rect x="930" y="639" width="1" height="43" fill="#c0c0c0"/><rect x="934" y="639" width="1" height="43" fill="#c0c0c0"/><rect x="938" y="647" width="1" height="35" fill="#c0c0c0"/><rect x="942" y="653" width="1" height="29" fill="#c0c0c0"/><rect x="946" y="658" width="1" height="24" fill="#c0c0c0"/><rect x="950" y="660" width="1" height="22" fill="#c0c0c0"/><rect x="954" y="668" width="1" height="14" fill="#c0c0c0"/><rect x="958" y="678" width="1" height="4" fill="#c0c0c0"/><rect x="962" y="681" width="1" height="11" fill="#c0c0c0"/><rect x="966" y="681" width="1" height="21" fill="#c0c0c0"/><rect x="970" y="681" width="1" height="30" fill="#c0c0c0"/><rect x="974" y="681" width="1" height="33" fill="#c0c0c0"/><rect x="978" y="681" width="1" height="34" fill="#c0c0c0"/><rect x="982" y="681" width="1" height="33" fill="#c0c0c0"/><rect x="986" y="681" width="1" height="26" fill="#c0c0c0"/><rect x="990" y="681" width="1" height="18" fill="#c0c0c0"/><rect x="994" y="681" width="1" height="11" fill="#c0c0c0"/><rect x="998" y="681" width="1" height="8" fill="#c0c0c0"/><rect x="1002" y="681" width="1" height="6" fill="#c0c0c0"/><rect x="1006" y="681" width="1" height="7" fill="#c0c0c0"/><rect x="1010" y="681" width="1" height="10" fill="#c0c0c0"/><rect x="1014" y="681" width="1" height="14" fill="#c0c0c0"/><rect x="1018" y="681" width="1" height="17" fill="#c0c0c0"/><rect x="1022" y="681" width="1" height="19" fill="#c0c0c0"/><rect x="1026" y="681" width="1" height="18" fill="#c0c0c0"/><rect x="1030" y="681" width="1" height="18" fill="#c0c0c0"/><rect x="1034" y="681" width="1" height="15" fill="#c0c0c0"/><rect x="1038" y="681" width="1" height="12" fill="#c0c0c0"/><rect x="1042" y="681" width="1" height="10" fill="#c0c0c0"/><rect x="1046" y="681" width="1" height="10" fill="#c0c0c0"/><rect x="1050" y="681" width="1" height="7" fill="#c0c0c0"/><rect x="1054" y="681" width="1" height="7" fill="#c0c0c0"/><rect x="1058" y="681" width="1" height="9" fill="#c0c0c0"/><rect x="1062" y="681" width="1" height="9" fill="#c0c0c0"/><rect x="1066" y="681" width="1" height="9" fill="#c0c0c0"/><rect x="1070" y="681" width="1" height="10" fill="#c0c0c0"/><rect x="1074" y="681" width="1" height="10" fill="#c0c0c0"/><rect x="1078" y="681" width="1" height="12" fill="#c0c0c0"/><rect x="1082" y="681" width="1" height="13" fill="#c0c0c0"/><rect x="1086" y="681" width="1" height="14" fill="#c0c0c0"/><rect x="1090" y="681" width="1" height="15" fill="#c0c0c0"/><rect x="1094" y="681" width="1" height="15" fill="#c0c0c0"/><rect x="1098" y="681" width="1" height="14" fill="#c0c0c0"/><rect x="1102" y="681" width="1" height="13" fill="#c0c0c0"/><rect x="1106" y="681" width="1" height="9" fill="#c0c0c0"/><rect x="1110" y="681" width="1" height="4" fill="#c0c0c0"/><rect x="1114" y="681" width="1" height="1" fill="#c0c0c0"/><rect x="1118" y="680" width="1" height="2" fill="#c0c0c0"/><rect x="1122" y="681" width="1" height="2" fill="#c0c0c0"/><rect x="1126" y="681" width="1" height="5" fill="#c0c0c0"/><rect x="1130" y="681" width="1" height="7" fill="#c0c0c0"/><rect x="1134" y="681" width="1" height="6" fill="#c0c0c0"/><rect x="1138" y="681" width="1" height="7" fill="#c0c0c0"/><rect x="1142" y="681" width="1" height="8" fill="#c0c0c0"/><rect x="1146" y="681" width="1" height="7" fill="#c0c0c0"/><rect x="1150" y="681" width="1" height="7" fill="#c0c0c0"/><rect x="1154" y="681" width="1" height="9" fill="#c0c0c0"/><rect x="1158" y="681" width="1" height="9" fill="#c0c0c0"/><rect x="1162" y="681" width="1" height="9" fill="#c0c0c0"/><rect x="1166" y="681" width="1" height="7" fill="#c0c0c0"/><rect x="1170" y="681" width="1" height="3" fill="#c0c0c0"/><rect x="1174" y="679" width="1" height="3" fill="#c0c0c0"/><rect x="1178" y="677" width="1" height="5" fill="#c0c0c0"/><rect x="1182" y="677" width="1" height="5" fill="#c0c0c0"/><rect x="1186" y="677" width="1" height="5" fill="#c0c0c0"/><rect x="1190" y="678" width="1" height="4" fill="#c0c0c0"/><rect x="1194" y="675" width="1" height="7" fill="#c0c0c0"/><rect x="1198" y="674" width="1" height="8" fill="#c0c0c0"/><rect x="1202" y="669" width="1" height="13" fill="#c0c0c0"/><rect x="1206" y="665" width="1" height="17" fill="#c0c0c0"/><rect x="1210" y="662" width="1" height="20" fill="#c0c0c0"/><rect x="1214" y="659" width="1" height="23" fill="#c0c0c0"/><rect x="1218" y="655" width="1" height="27" fill="#c0c0c0"/><rect x="1222" y="650" width="1" height="32" fill="#c0c0c0"/><rect x="1226" y="644" width="1" height="38" fill="#c0c0c0"/><rect x="1230" y="640" width="1" height="42" fill="#c0c0c0"/><rect x="1234" y="638" width="1" height="44" fill="#c0c0c0"/><rect x="1238" y="637" width="1" height="45" fill="#c0c0c0"/><rect x="1242" y="635" width="1" height="47" fill="#c0c0c0"/><rect x="1246" y="634" width="1" height="48" fill="#c0c0c0"/><rect x="1250" y="632" width="1" height="50" fill="#c0c0c0"/><rect x="1254" y="636" width="1" height="46" fill="#c0c0c0"/><rect x="1258" y="640" width="1" height="42" fill="#c0c0c0"/><rect x="1262" y="642" width="1" height="40" fill="#c0c0c0"/><rect x="1266" y="643" width="1" height="39" fill="#c0c0c0"/><polyline points="2.5,672.3 6.5,671.1 10.5,670.5 14.5,670.4 18.5,670.8 22.5,671.6 26.5,672.5 30.5,673.3 34.5,673.9 38.5,673.9 42.5,673.5 46.5,672.6 50.5,671.4 54.5,670.0 58.5,668.5 62.5,667.3 66.5,666.7 70.5,666.7 74.5,667.2 78.5,668.4 82.5,670.1 86.5,672.1 90.5,674.4 94.5,676.7 98.5,678.7 102.5,680.5 106.5,681.9 110.5,683.1 114.5,684.1 118.5,684.8 122.5,685.2 126.5,685.5 130.5,685.9 134.5,686.3 138.5,686.8 142.5,687.7 146.5,688.7 150.5,689.7 154.5,690.8 158.5,691.8 162.5,692.8 166.5,693.7 170.5,694.8 174.5,695.7 178.5,696.3 182.5,696.5 186.5,696.2 190.5,695.4 194.5,694.5 198.5,693.3 202.5,692.0 206.5,690.3 210.5,688.6 214.5,687.1 218.5,686.2 222.5,685.8 226.5,686.0 230.5,686.4 234.5,687.2 238.5,688.1 242.5,689.2 246.5,690.1 250.5,690.7 254.5,691.0 258.5,691.1 262.5,691.2 266.5,691.3 270.5,691.6 274.5,692.2 278.5,693.0 282.5,694.1 286.5,695.3 290.5,696.3 294.5,697.1 298.5,697.8 302.5,698.1 306.5,698.0 310.5,697.6 314.5,696.7 318.5,695.4 322.5,694.1 326.5,693.1 330.5,692.0 334.5,691.0 338.5,690.3 342.5,689.7 346.5,689.1 350.5,688.9 354.5,688.9 358.5,689.2 362.5,689.6 366.5,690.3 370.5,691.2 374.5,692.2 378.5,693.1 382.5,693.9 386.5,694.4 390.5,694.7 394.5,694.7 398.5,694.4 402.5,694.0 406.5,693.3 410.5,692.3 414.5,690.9 418.5,689.5 422.5,688.1 426.5,686.7 430.5,685.2 434.5,683.5 438.5,681.4 442.5,679.1 446.5,676.9 450.5,674.8 454.5,673.0 458.5,671.5 462.5,670.2 466.5,669.3 470.5,668.9 474.5,668.8 478.5,669.1 482.5,669.4 486.5,669.6 490.5,669.7 494.5,669.8 498.5,670.0 502.5,670.3 506.5,670.8 510.5,671.7 514.5,672.9 518.5,674.3 522.5,676.1 526.5,678.1 530.5,680.3 534.5,682.1 538.5,683.6 542.5,684.6 546.5,685.1 550.5,685.3 554.5,685.3 558.5,685.2 562.5,685.0 566.5,684.8 570.5,684.7 574.5,684.8 578.5,685.2 582.5,685.6 586.5,686.0 590.5,686.3 594.5,686.3 598.5,686.1 602.5,685.5 606.5,684.8 610.5,684.1 614.5,683.2 618.5,682.3 622.5,681.4 626.5,680.5 630.5,679.6 634.5,678.8 638.5,678.0 642.5,677.1 646.5,676.2 650.5,675.3 654.5,674.8 658.5,674.5 662.5,674.4 666.5,674.6 670.5,674.9 674.5,675.4 678.5,675.8 682.5,676.0 686.5,675.9 690.5,675.4 694.5,674.5 698.5,673.5 702.5,672.6 706.5,671.6 710.5,670.6 714.5,670.1 718.5,670.0 722.5,670.4 726.5,671.3 730.5,672.4 734.5,673.6 738.5,674.8 742.5,675.9 746.5,677.0 750.5,678.0 754.5,679.0 758.5,679.9 762.5,680.7 766.5,681.5 770.5,682.5 774.5,683.6 778.5,684.8 782.5,686.2 786.5,687.6 790.5,689.0 794.5,690.1 798.5,690.9 802.5,691.4 806.5,691.7 810.5,691.7 814.5,691.8 818.5,691.8 822.5,691.8 826.5,692.0 830.5,692.3 834.5,693.1 838.5,694.3 842.5,695.8 846.5,697.5 850.5,699.2 854.5,700.9 858.5,702.5 862.5,704.1 866.5,705.5 870.5,706.6 874.5,707.2 878.5,707.4 882.5,707.2 886.5,706.7 890.5,705.4 894.5,703.5 898.5,700.9 902.5,697.5 906.5,693.5 910.5,689.1 914.5,684.5 918.5,679.2 922.5,673.4 926.5,667.4 930.5,661.6 934.5,656.4 938.5,652.8 942.5,650.7 946.5,649.6 950.5,649.3 954.5,650.7 958.5,653.9 962.5,659.3 966.5,666.2 970.5,674.0 974.5,681.3 978.5,688.1 982.5,694.2 986.5,699.2 990.5,702.6 994.5,704.0 998.5,703.7 1002.5,702.0 1006.5,699.4 1010.5,696.9 1014.5,694.7 1018.5,692.9 1022.5,692.2 1026.5,692.1 1030.5,692.8 1034.5,693.6 1038.5,694.3 1042.5,694.7 1046.5,694.7 1050.5,693.9 1054.5,692.8 1058.5,691.7 1062.5,690.7 1066.5,689.8 1070.5,689.2 1074.5,689.0 1078.5,689.1 1082.5,689.5 1086.5,690.3 1090.5,691.3 1094.5,691.9 1098.5,692.5 1102.5,692.9 1106.5,692.8 1110.5,692.1 1114.5,690.9 1118.5,689.5 1122.5,688.2 1126.5,687.0 1130.5,686.0 1134.5,685.2 1138.5,684.5 1142.5,684.3 1146.5,684.6 1150.5,685.4 1154.5,686.3 1158.5,687.1 1162.5,687.6 1166.5,687.7 1170.5,687.3 1174.5,686.5 1178.5,685.3 1182.5,684.2 1186.5,683.1 1190.5,681.9 1194.5,680.4 1198.5,678.7 1202.5,676.7 1206.5,674.7 1210.5,672.7 1214.5,670.7 1218.5,668.2 1222.5,665.2 1226.5,661.4 1230.5,657.6 1234.5,653.6 1238.5,650.0 1242.5,646.7 1246.5,643.6 1250.5,640.7 1254.5,638.5 1258.5,637.4 1262.5,637.2 1266.5,637.4" fill="none" stroke="#ff0000" stroke-width="1" stroke-dasharray="3,3"/></g><text x="6.2" y="639" font-size="9.75" fill="#000" textLength="145" lengthAdjust="spacingAndGlyphs"  stroke="#000" stroke-width="0.12">MACD(12,26,9) 0.009583 0.010840</text><rect x="1595" y="628" width="1" height="1" fill="#000"/><text x="1598" y="637" font-size="9.75" fill="#000" textLength="37" lengthAdjust="spacingAndGlyphs"  stroke="#000" stroke-width="0.12">0.013121</text><rect x="1595" y="681" width="1" height="1" fill="#000"/><text x="1598" y="685" font-size="9.75" fill="#000" textLength="18.5" lengthAdjust="spacingAndGlyphs"  stroke="#000" stroke-width="0.12">0.00</text><rect x="1595" y="717" width="1" height="1" fill="#000"/><text x="1598" y="715" font-size="9.75" fill="#000" textLength="38" lengthAdjust="spacingAndGlyphs"  stroke="#000" stroke-width="0.12">-0.00893</text><rect x="2" y="719" width="1" height="3" fill="#000"/><text x="1.3" y="731" font-size="9.75" fill="#000" textLength="49.43" lengthAdjust="spacingAndGlyphs"  stroke="#000" stroke-width="0.12">13 Jun 2019</text><rect x="66" y="719" width="1" height="3" fill="#000"/><text x="65.3" y="731" font-size="9.75" fill="#000" textLength="41.44" lengthAdjust="spacingAndGlyphs"  stroke="#000" stroke-width="0.12">2 Jul 2019</text><rect x="130" y="719" width="1" height="3" fill="#000"/><text x="129.3" y="731" font-size="9.75" fill="#000" textLength="46.43" lengthAdjust="spacingAndGlyphs"  stroke="#000" stroke-width="0.12">20 Jul 2019</text><rect x="194" y="719" width="1" height="3" fill="#000"/><text x="193.3" y="731" font-size="9.75" fill="#000" textLength="45.44" lengthAdjust="spacingAndGlyphs"  stroke="#000" stroke-width="0.12">8 Aug 2019</text><rect x="258" y="719" width="1" height="3" fill="#000"/><text x="257.3" y="731" font-size="9.75" fill="#000" textLength="50.43" lengthAdjust="spacingAndGlyphs"  stroke="#000" stroke-width="0.12">27 Aug 2019</text><rect x="322" y="719" width="1" height="3" fill="#000"/><text x="321.3" y="731" font-size="9.75" fill="#000" textLength="50.93" lengthAdjust="spacingAndGlyphs"  stroke="#000" stroke-width="0.12">14 Sep 2019</text><rect x="386" y="719" width="1" height="3" fill="#000"/><text x="385.3" y="731" font-size="9.75" fill="#000" textLength="43.93" lengthAdjust="spacingAndGlyphs"  stroke="#000" stroke-width="0.12">3 Oct 2019</text><rect x="450" y="719" width="1" height="3" fill="#000"/><text x="449.3" y="731" font-size="9.75" fill="#000" textLength="48.92" lengthAdjust="spacingAndGlyphs"  stroke="#000" stroke-width="0.12">22 Oct 2019</text><rect x="514" y="719" width="1" height="3" fill="#000"/><text x="513.3" y="731" font-size="9.75" fill="#000" textLength="45.93" lengthAdjust="spacingAndGlyphs"  stroke="#000" stroke-width="0.12">9 Nov 2019</text><rect x="578" y="719" width="1" height="3" fill="#000"/><text x="577.3" y="731" font-size="9.75" fill="#000" textLength="50.92" lengthAdjust="spacingAndGlyphs"  stroke="#000" stroke-width="0.12">28 Nov 2019</text><rect x="642" y="719" width="1" height="3" fill="#000"/><text x="641.3" y="731" font-size="9.75" fill="#000" textLength="50.92" lengthAdjust="spacingAndGlyphs"  stroke="#000" stroke-width="0.12">17 Dec 2019</text><rect x="706" y="719" width="1" height="3" fill="#000"/><text x="705.3" y="731" font-size="9.75" fill="#000" textLength="44.43" lengthAdjust="spacingAndGlyphs"  stroke="#000" stroke-width="0.12">4 Jan 2020</text><rect x="770" y="719" width="1" height="3" fill="#000"/><text x="769.3" y="731" font-size="9.75" fill="#000" textLength="49.43" lengthAdjust="spacingAndGlyphs"  stroke="#000" stroke-width="0.12">23 Jan 2020</text><rect x="834" y="719" width="1" height="3" fill="#000"/><text x="833.3" y="731" font-size="9.75" fill="#000" textLength="49.76" lengthAdjust="spacingAndGlyphs"  stroke="#000" stroke-width="0.12">11 Feb 2020</text><rect x="898" y="719" width="1" height="3" fill="#000"/><text x="897.3" y="731" font-size="9.75" fill="#000" textLength="50.42" lengthAdjust="spacingAndGlyphs"  stroke="#000" stroke-width="0.12">29 Feb 2020</text><rect x="962" y="719" width="1" height="3" fill="#000"/><text x="961.3" y="731" font-size="9.75" fill="#000" textLength="50.41" lengthAdjust="spacingAndGlyphs"  stroke="#000" stroke-width="0.12">19 Mar 2020</text><rect x="1026" y="719" width="1" height="3" fill="#000"/><text x="1025.3" y="731" font-size="9.75" fill="#000" textLength="43.44" lengthAdjust="spacingAndGlyphs"  stroke="#000" stroke-width="0.12">7 Apr 2020</text><rect x="1090" y="719" width="1" height="3" fill="#000"/><text x="1089.3" y="731" font-size="9.75" fill="#000" textLength="48.43" lengthAdjust="spacingAndGlyphs"  stroke="#000" stroke-width="0.12">25 Apr 2020</text><rect x="1154" y="719" width="1" height="3" fill="#000"/><text x="1153.3" y="731" font-size="9.75" fill="#000" textLength="51.91" lengthAdjust="spacingAndGlyphs"  stroke="#000" stroke-width="0.12">14 May 2020</text><rect x="1218" y="719" width="1" height="3" fill="#000"/><text x="1217.3" y="731" font-size="9.75" fill="#000" textLength="44.43" lengthAdjust="spacingAndGlyphs"  stroke="#000" stroke-width="0.12">2 Jun 2020</text></svg>
</body></html>
